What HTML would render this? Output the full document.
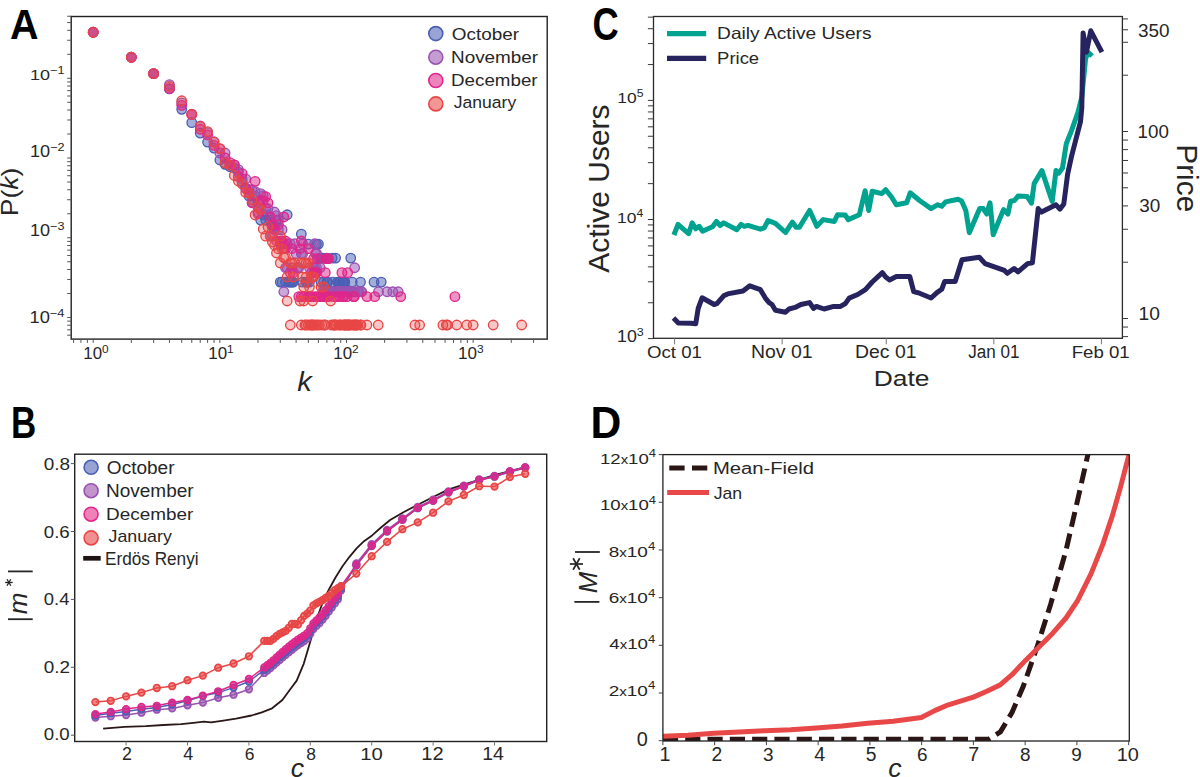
<!DOCTYPE html>
<html><head><meta charset="utf-8"><style>
html,body{margin:0;padding:0;background:#fff;width:1200px;height:777px;overflow:hidden}
svg{display:block}
text{font-family:"Liberation Sans",sans-serif}
</style></head><body>
<svg width="1200" height="777" viewBox="0 0 1200 777" fill="#262626">
<rect width="1200" height="777" fill="#fff"/>
<clipPath id="clipA"><rect x="71.2" y="16.5" width="476.00000000000006" height="322.6"/></clipPath>
<g clip-path="url(#clipA)">
<circle cx="93.2" cy="32.23" r="4.75" fill="#4a5fb5" stroke="#4a5fb5" stroke-width="1.35" fill-opacity="0.5"/>
<circle cx="131.33" cy="57.26" r="4.75" fill="#4a5fb5" stroke="#4a5fb5" stroke-width="1.35" fill-opacity="0.5"/>
<circle cx="153.63" cy="73.63" r="4.75" fill="#4a5fb5" stroke="#4a5fb5" stroke-width="1.35" fill-opacity="0.5"/>
<circle cx="169.45" cy="88.91" r="4.75" fill="#4a5fb5" stroke="#4a5fb5" stroke-width="1.35" fill-opacity="0.5"/>
<circle cx="181.72" cy="109.31" r="4.75" fill="#4a5fb5" stroke="#4a5fb5" stroke-width="1.35" fill-opacity="0.5"/>
<circle cx="191.75" cy="122.65" r="4.75" fill="#4a5fb5" stroke="#4a5fb5" stroke-width="1.35" fill-opacity="0.5"/>
<circle cx="200.23" cy="133.08" r="4.75" fill="#4a5fb5" stroke="#4a5fb5" stroke-width="1.35" fill-opacity="0.5"/>
<circle cx="207.58" cy="142.12" r="4.75" fill="#4a5fb5" stroke="#4a5fb5" stroke-width="1.35" fill-opacity="0.5"/>
<circle cx="214.05" cy="148.07" r="4.75" fill="#4a5fb5" stroke="#4a5fb5" stroke-width="1.35" fill-opacity="0.5"/>
<circle cx="219.85" cy="160.01" r="4.75" fill="#4a5fb5" stroke="#4a5fb5" stroke-width="1.35" fill-opacity="0.5"/>
<circle cx="225.09" cy="164.34" r="4.75" fill="#4a5fb5" stroke="#4a5fb5" stroke-width="1.35" fill-opacity="0.5"/>
<circle cx="229.88" cy="166.73" r="4.75" fill="#4a5fb5" stroke="#4a5fb5" stroke-width="1.35" fill-opacity="0.5"/>
<circle cx="234.28" cy="167.99" r="4.75" fill="#4a5fb5" stroke="#4a5fb5" stroke-width="1.35" fill-opacity="0.5"/>
<circle cx="238.36" cy="172.07" r="4.75" fill="#4a5fb5" stroke="#4a5fb5" stroke-width="1.35" fill-opacity="0.5"/>
<circle cx="242.15" cy="182.03" r="4.75" fill="#4a5fb5" stroke="#4a5fb5" stroke-width="1.35" fill-opacity="0.5"/>
<circle cx="245.7" cy="188.34" r="4.75" fill="#4a5fb5" stroke="#4a5fb5" stroke-width="1.35" fill-opacity="0.5"/>
<circle cx="249.04" cy="196.07" r="4.75" fill="#4a5fb5" stroke="#4a5fb5" stroke-width="1.35" fill-opacity="0.5"/>
<circle cx="252.18" cy="202.38" r="4.75" fill="#4a5fb5" stroke="#4a5fb5" stroke-width="1.35" fill-opacity="0.5"/>
<circle cx="255.15" cy="196.07" r="4.75" fill="#4a5fb5" stroke="#4a5fb5" stroke-width="1.35" fill-opacity="0.5"/>
<circle cx="257.98" cy="202.38" r="4.75" fill="#4a5fb5" stroke="#4a5fb5" stroke-width="1.35" fill-opacity="0.5"/>
<circle cx="260.66" cy="220.07" r="4.75" fill="#4a5fb5" stroke="#4a5fb5" stroke-width="1.35" fill-opacity="0.5"/>
<circle cx="263.22" cy="214.73" r="4.75" fill="#4a5fb5" stroke="#4a5fb5" stroke-width="1.35" fill-opacity="0.5"/>
<circle cx="265.66" cy="220.07" r="4.75" fill="#4a5fb5" stroke="#4a5fb5" stroke-width="1.35" fill-opacity="0.5"/>
<circle cx="268" cy="214.73" r="4.75" fill="#4a5fb5" stroke="#4a5fb5" stroke-width="1.35" fill-opacity="0.5"/>
<circle cx="270.25" cy="220.07" r="4.75" fill="#4a5fb5" stroke="#4a5fb5" stroke-width="1.35" fill-opacity="0.5"/>
<circle cx="272.41" cy="226.39" r="4.75" fill="#4a5fb5" stroke="#4a5fb5" stroke-width="1.35" fill-opacity="0.5"/>
<circle cx="274.48" cy="226.39" r="4.75" fill="#4a5fb5" stroke="#4a5fb5" stroke-width="1.35" fill-opacity="0.5"/>
<circle cx="276.48" cy="220.07" r="4.75" fill="#4a5fb5" stroke="#4a5fb5" stroke-width="1.35" fill-opacity="0.5"/>
<circle cx="278.41" cy="220.07" r="4.75" fill="#4a5fb5" stroke="#4a5fb5" stroke-width="1.35" fill-opacity="0.5"/>
<circle cx="280.28" cy="244.07" r="4.75" fill="#4a5fb5" stroke="#4a5fb5" stroke-width="1.35" fill-opacity="0.5"/>
<circle cx="280.28" cy="282.11" r="4.75" fill="#4a5fb5" stroke="#4a5fb5" stroke-width="1.35" fill-opacity="0.5"/>
<circle cx="282.08" cy="282.11" r="4.75" fill="#4a5fb5" stroke="#4a5fb5" stroke-width="1.35" fill-opacity="0.5"/>
<circle cx="285.52" cy="282.11" r="4.75" fill="#4a5fb5" stroke="#4a5fb5" stroke-width="1.35" fill-opacity="0.5"/>
<circle cx="288.76" cy="282.11" r="4.75" fill="#4a5fb5" stroke="#4a5fb5" stroke-width="1.35" fill-opacity="0.5"/>
<circle cx="290.31" cy="282.11" r="4.75" fill="#4a5fb5" stroke="#4a5fb5" stroke-width="1.35" fill-opacity="0.5"/>
<circle cx="291.81" cy="282.11" r="4.75" fill="#4a5fb5" stroke="#4a5fb5" stroke-width="1.35" fill-opacity="0.5"/>
<circle cx="293.28" cy="282.11" r="4.75" fill="#4a5fb5" stroke="#4a5fb5" stroke-width="1.35" fill-opacity="0.5"/>
<circle cx="302.58" cy="282.11" r="4.75" fill="#4a5fb5" stroke="#4a5fb5" stroke-width="1.35" fill-opacity="0.5"/>
<circle cx="306.13" cy="282.11" r="4.75" fill="#4a5fb5" stroke="#4a5fb5" stroke-width="1.35" fill-opacity="0.5"/>
<circle cx="307.26" cy="282.11" r="4.75" fill="#4a5fb5" stroke="#4a5fb5" stroke-width="1.35" fill-opacity="0.5"/>
<circle cx="309.46" cy="282.11" r="4.75" fill="#4a5fb5" stroke="#4a5fb5" stroke-width="1.35" fill-opacity="0.5"/>
<circle cx="321.09" cy="282.11" r="4.75" fill="#4a5fb5" stroke="#4a5fb5" stroke-width="1.35" fill-opacity="0.5"/>
<circle cx="323.65" cy="282.11" r="4.75" fill="#4a5fb5" stroke="#4a5fb5" stroke-width="1.35" fill-opacity="0.5"/>
<circle cx="326.88" cy="282.11" r="4.75" fill="#4a5fb5" stroke="#4a5fb5" stroke-width="1.35" fill-opacity="0.5"/>
<circle cx="327.66" cy="282.11" r="4.75" fill="#4a5fb5" stroke="#4a5fb5" stroke-width="1.35" fill-opacity="0.5"/>
<circle cx="332.83" cy="282.11" r="4.75" fill="#4a5fb5" stroke="#4a5fb5" stroke-width="1.35" fill-opacity="0.5"/>
<circle cx="337.56" cy="282.11" r="4.75" fill="#4a5fb5" stroke="#4a5fb5" stroke-width="1.35" fill-opacity="0.5"/>
<circle cx="338.84" cy="282.11" r="4.75" fill="#4a5fb5" stroke="#4a5fb5" stroke-width="1.35" fill-opacity="0.5"/>
<circle cx="340.09" cy="282.11" r="4.75" fill="#4a5fb5" stroke="#4a5fb5" stroke-width="1.35" fill-opacity="0.5"/>
<circle cx="342.51" cy="282.11" r="4.75" fill="#4a5fb5" stroke="#4a5fb5" stroke-width="1.35" fill-opacity="0.5"/>
<circle cx="343.1" cy="282.11" r="4.75" fill="#4a5fb5" stroke="#4a5fb5" stroke-width="1.35" fill-opacity="0.5"/>
<circle cx="344.25" cy="282.11" r="4.75" fill="#4a5fb5" stroke="#4a5fb5" stroke-width="1.35" fill-opacity="0.5"/>
<circle cx="344.82" cy="282.11" r="4.75" fill="#4a5fb5" stroke="#4a5fb5" stroke-width="1.35" fill-opacity="0.5"/>
<circle cx="319.31" cy="258.11" r="4.75" fill="#4a5fb5" stroke="#4a5fb5" stroke-width="1.35" fill-opacity="0.5"/>
<circle cx="321.09" cy="258.11" r="4.75" fill="#4a5fb5" stroke="#4a5fb5" stroke-width="1.35" fill-opacity="0.5"/>
<circle cx="321.95" cy="258.11" r="4.75" fill="#4a5fb5" stroke="#4a5fb5" stroke-width="1.35" fill-opacity="0.5"/>
<circle cx="322.81" cy="258.11" r="4.75" fill="#4a5fb5" stroke="#4a5fb5" stroke-width="1.35" fill-opacity="0.5"/>
<circle cx="326.88" cy="258.11" r="4.75" fill="#4a5fb5" stroke="#4a5fb5" stroke-width="1.35" fill-opacity="0.5"/>
<circle cx="332.12" cy="258.11" r="4.75" fill="#4a5fb5" stroke="#4a5fb5" stroke-width="1.35" fill-opacity="0.5"/>
<circle cx="335.58" cy="258.11" r="4.75" fill="#4a5fb5" stroke="#4a5fb5" stroke-width="1.35" fill-opacity="0.5"/>
<circle cx="308.37" cy="244.07" r="4.75" fill="#4a5fb5" stroke="#4a5fb5" stroke-width="1.35" fill-opacity="0.5"/>
<circle cx="316.54" cy="244.07" r="4.75" fill="#4a5fb5" stroke="#4a5fb5" stroke-width="1.35" fill-opacity="0.5"/>
<circle cx="318.4" cy="244.07" r="4.75" fill="#4a5fb5" stroke="#4a5fb5" stroke-width="1.35" fill-opacity="0.5"/>
<circle cx="352.24" cy="282.11" r="4.75" fill="#4a5fb5" stroke="#4a5fb5" stroke-width="1.35" fill-opacity="0.5"/>
<circle cx="360.51" cy="282.11" r="4.75" fill="#4a5fb5" stroke="#4a5fb5" stroke-width="1.35" fill-opacity="0.5"/>
<circle cx="374.04" cy="282.11" r="4.75" fill="#4a5fb5" stroke="#4a5fb5" stroke-width="1.35" fill-opacity="0.5"/>
<circle cx="381.22" cy="282.11" r="4.75" fill="#4a5fb5" stroke="#4a5fb5" stroke-width="1.35" fill-opacity="0.5"/>
<circle cx="350.73" cy="258.11" r="4.75" fill="#4a5fb5" stroke="#4a5fb5" stroke-width="1.35" fill-opacity="0.5"/>
<circle cx="287.16" cy="214.73" r="4.75" fill="#4a5fb5" stroke="#4a5fb5" stroke-width="1.35" fill-opacity="0.5"/>
<circle cx="301.34" cy="234.11" r="4.75" fill="#4a5fb5" stroke="#4a5fb5" stroke-width="1.35" fill-opacity="0.5"/>
<circle cx="93.2" cy="32.23" r="4.75" fill="#9a52b2" stroke="#9a52b2" stroke-width="1.35" fill-opacity="0.5"/>
<circle cx="131.33" cy="57.26" r="4.75" fill="#9a52b2" stroke="#9a52b2" stroke-width="1.35" fill-opacity="0.5"/>
<circle cx="153.63" cy="73.64" r="4.75" fill="#9a52b2" stroke="#9a52b2" stroke-width="1.35" fill-opacity="0.5"/>
<circle cx="169.45" cy="84.55" r="4.75" fill="#9a52b2" stroke="#9a52b2" stroke-width="1.35" fill-opacity="0.5"/>
<circle cx="181.72" cy="102.85" r="4.75" fill="#9a52b2" stroke="#9a52b2" stroke-width="1.35" fill-opacity="0.5"/>
<circle cx="191.75" cy="114.33" r="4.75" fill="#9a52b2" stroke="#9a52b2" stroke-width="1.35" fill-opacity="0.5"/>
<circle cx="200.23" cy="125.98" r="4.75" fill="#9a52b2" stroke="#9a52b2" stroke-width="1.35" fill-opacity="0.5"/>
<circle cx="207.58" cy="132.64" r="4.75" fill="#9a52b2" stroke="#9a52b2" stroke-width="1.35" fill-opacity="0.5"/>
<circle cx="214.05" cy="141.79" r="4.75" fill="#9a52b2" stroke="#9a52b2" stroke-width="1.35" fill-opacity="0.5"/>
<circle cx="219.85" cy="152.99" r="4.75" fill="#9a52b2" stroke="#9a52b2" stroke-width="1.35" fill-opacity="0.5"/>
<circle cx="225.09" cy="152.99" r="4.75" fill="#9a52b2" stroke="#9a52b2" stroke-width="1.35" fill-opacity="0.5"/>
<circle cx="229.88" cy="164.89" r="4.75" fill="#9a52b2" stroke="#9a52b2" stroke-width="1.35" fill-opacity="0.5"/>
<circle cx="234.28" cy="164.89" r="4.75" fill="#9a52b2" stroke="#9a52b2" stroke-width="1.35" fill-opacity="0.5"/>
<circle cx="238.36" cy="169.64" r="4.75" fill="#9a52b2" stroke="#9a52b2" stroke-width="1.35" fill-opacity="0.5"/>
<circle cx="242.15" cy="178.93" r="4.75" fill="#9a52b2" stroke="#9a52b2" stroke-width="1.35" fill-opacity="0.5"/>
<circle cx="245.7" cy="178.93" r="4.75" fill="#9a52b2" stroke="#9a52b2" stroke-width="1.35" fill-opacity="0.5"/>
<circle cx="249.04" cy="189.79" r="4.75" fill="#9a52b2" stroke="#9a52b2" stroke-width="1.35" fill-opacity="0.5"/>
<circle cx="252.18" cy="189.79" r="4.75" fill="#9a52b2" stroke="#9a52b2" stroke-width="1.35" fill-opacity="0.5"/>
<circle cx="255.15" cy="191.67" r="4.75" fill="#9a52b2" stroke="#9a52b2" stroke-width="1.35" fill-opacity="0.5"/>
<circle cx="257.98" cy="212.02" r="4.75" fill="#9a52b2" stroke="#9a52b2" stroke-width="1.35" fill-opacity="0.5"/>
<circle cx="260.66" cy="193.65" r="4.75" fill="#9a52b2" stroke="#9a52b2" stroke-width="1.35" fill-opacity="0.5"/>
<circle cx="263.22" cy="195.74" r="4.75" fill="#9a52b2" stroke="#9a52b2" stroke-width="1.35" fill-opacity="0.5"/>
<circle cx="265.66" cy="208.72" r="4.75" fill="#9a52b2" stroke="#9a52b2" stroke-width="1.35" fill-opacity="0.5"/>
<circle cx="268" cy="208.72" r="4.75" fill="#9a52b2" stroke="#9a52b2" stroke-width="1.35" fill-opacity="0.5"/>
<circle cx="270.25" cy="236.02" r="4.75" fill="#9a52b2" stroke="#9a52b2" stroke-width="1.35" fill-opacity="0.5"/>
<circle cx="272.41" cy="236.02" r="4.75" fill="#9a52b2" stroke="#9a52b2" stroke-width="1.35" fill-opacity="0.5"/>
<circle cx="274.48" cy="212.02" r="4.75" fill="#9a52b2" stroke="#9a52b2" stroke-width="1.35" fill-opacity="0.5"/>
<circle cx="276.48" cy="215.67" r="4.75" fill="#9a52b2" stroke="#9a52b2" stroke-width="1.35" fill-opacity="0.5"/>
<circle cx="278.41" cy="229.71" r="4.75" fill="#9a52b2" stroke="#9a52b2" stroke-width="1.35" fill-opacity="0.5"/>
<circle cx="280.28" cy="243.75" r="4.75" fill="#9a52b2" stroke="#9a52b2" stroke-width="1.35" fill-opacity="0.5"/>
<circle cx="282.08" cy="229.71" r="4.75" fill="#9a52b2" stroke="#9a52b2" stroke-width="1.35" fill-opacity="0.5"/>
<circle cx="322.81" cy="291.75" r="4.75" fill="#9a52b2" stroke="#9a52b2" stroke-width="1.35" fill-opacity="0.5"/>
<circle cx="324.47" cy="291.75" r="4.75" fill="#9a52b2" stroke="#9a52b2" stroke-width="1.35" fill-opacity="0.5"/>
<circle cx="325.29" cy="291.75" r="4.75" fill="#9a52b2" stroke="#9a52b2" stroke-width="1.35" fill-opacity="0.5"/>
<circle cx="326.88" cy="291.75" r="4.75" fill="#9a52b2" stroke="#9a52b2" stroke-width="1.35" fill-opacity="0.5"/>
<circle cx="327.66" cy="291.75" r="4.75" fill="#9a52b2" stroke="#9a52b2" stroke-width="1.35" fill-opacity="0.5"/>
<circle cx="329.94" cy="291.75" r="4.75" fill="#9a52b2" stroke="#9a52b2" stroke-width="1.35" fill-opacity="0.5"/>
<circle cx="330.68" cy="291.75" r="4.75" fill="#9a52b2" stroke="#9a52b2" stroke-width="1.35" fill-opacity="0.5"/>
<circle cx="332.12" cy="291.75" r="4.75" fill="#9a52b2" stroke="#9a52b2" stroke-width="1.35" fill-opacity="0.5"/>
<circle cx="336.25" cy="291.75" r="4.75" fill="#9a52b2" stroke="#9a52b2" stroke-width="1.35" fill-opacity="0.5"/>
<circle cx="336.91" cy="291.75" r="4.75" fill="#9a52b2" stroke="#9a52b2" stroke-width="1.35" fill-opacity="0.5"/>
<circle cx="338.2" cy="291.75" r="4.75" fill="#9a52b2" stroke="#9a52b2" stroke-width="1.35" fill-opacity="0.5"/>
<circle cx="339.47" cy="291.75" r="4.75" fill="#9a52b2" stroke="#9a52b2" stroke-width="1.35" fill-opacity="0.5"/>
<circle cx="340.09" cy="291.75" r="4.75" fill="#9a52b2" stroke="#9a52b2" stroke-width="1.35" fill-opacity="0.5"/>
<circle cx="340.7" cy="291.75" r="4.75" fill="#9a52b2" stroke="#9a52b2" stroke-width="1.35" fill-opacity="0.5"/>
<circle cx="343.1" cy="291.75" r="4.75" fill="#9a52b2" stroke="#9a52b2" stroke-width="1.35" fill-opacity="0.5"/>
<circle cx="344.25" cy="291.75" r="4.75" fill="#9a52b2" stroke="#9a52b2" stroke-width="1.35" fill-opacity="0.5"/>
<circle cx="346.5" cy="291.75" r="4.75" fill="#9a52b2" stroke="#9a52b2" stroke-width="1.35" fill-opacity="0.5"/>
<circle cx="347.59" cy="291.75" r="4.75" fill="#9a52b2" stroke="#9a52b2" stroke-width="1.35" fill-opacity="0.5"/>
<circle cx="348.66" cy="291.75" r="4.75" fill="#9a52b2" stroke="#9a52b2" stroke-width="1.35" fill-opacity="0.5"/>
<circle cx="349.18" cy="291.75" r="4.75" fill="#9a52b2" stroke="#9a52b2" stroke-width="1.35" fill-opacity="0.5"/>
<circle cx="351.74" cy="291.75" r="4.75" fill="#9a52b2" stroke="#9a52b2" stroke-width="1.35" fill-opacity="0.5"/>
<circle cx="352.73" cy="291.75" r="4.75" fill="#9a52b2" stroke="#9a52b2" stroke-width="1.35" fill-opacity="0.5"/>
<circle cx="354.66" cy="291.75" r="4.75" fill="#9a52b2" stroke="#9a52b2" stroke-width="1.35" fill-opacity="0.5"/>
<circle cx="357.44" cy="291.75" r="4.75" fill="#9a52b2" stroke="#9a52b2" stroke-width="1.35" fill-opacity="0.5"/>
<circle cx="358.77" cy="291.75" r="4.75" fill="#9a52b2" stroke="#9a52b2" stroke-width="1.35" fill-opacity="0.5"/>
<circle cx="360.93" cy="291.75" r="4.75" fill="#9a52b2" stroke="#9a52b2" stroke-width="1.35" fill-opacity="0.5"/>
<circle cx="361.77" cy="291.75" r="4.75" fill="#9a52b2" stroke="#9a52b2" stroke-width="1.35" fill-opacity="0.5"/>
<circle cx="287.16" cy="267.75" r="4.75" fill="#9a52b2" stroke="#9a52b2" stroke-width="1.35" fill-opacity="0.5"/>
<circle cx="291.81" cy="267.75" r="4.75" fill="#9a52b2" stroke="#9a52b2" stroke-width="1.35" fill-opacity="0.5"/>
<circle cx="297.46" cy="267.75" r="4.75" fill="#9a52b2" stroke="#9a52b2" stroke-width="1.35" fill-opacity="0.5"/>
<circle cx="298.78" cy="267.75" r="4.75" fill="#9a52b2" stroke="#9a52b2" stroke-width="1.35" fill-opacity="0.5"/>
<circle cx="309.46" cy="267.75" r="4.75" fill="#9a52b2" stroke="#9a52b2" stroke-width="1.35" fill-opacity="0.5"/>
<circle cx="313.62" cy="267.75" r="4.75" fill="#9a52b2" stroke="#9a52b2" stroke-width="1.35" fill-opacity="0.5"/>
<circle cx="314.61" cy="267.75" r="4.75" fill="#9a52b2" stroke="#9a52b2" stroke-width="1.35" fill-opacity="0.5"/>
<circle cx="320.21" cy="267.75" r="4.75" fill="#9a52b2" stroke="#9a52b2" stroke-width="1.35" fill-opacity="0.5"/>
<circle cx="296.1" cy="253.71" r="4.75" fill="#9a52b2" stroke="#9a52b2" stroke-width="1.35" fill-opacity="0.5"/>
<circle cx="301.34" cy="253.71" r="4.75" fill="#9a52b2" stroke="#9a52b2" stroke-width="1.35" fill-opacity="0.5"/>
<circle cx="302.58" cy="253.71" r="4.75" fill="#9a52b2" stroke="#9a52b2" stroke-width="1.35" fill-opacity="0.5"/>
<circle cx="315.58" cy="253.71" r="4.75" fill="#9a52b2" stroke="#9a52b2" stroke-width="1.35" fill-opacity="0.5"/>
<circle cx="316.54" cy="253.71" r="4.75" fill="#9a52b2" stroke="#9a52b2" stroke-width="1.35" fill-opacity="0.5"/>
<circle cx="282.08" cy="243.75" r="4.75" fill="#9a52b2" stroke="#9a52b2" stroke-width="1.35" fill-opacity="0.5"/>
<circle cx="283.83" cy="243.75" r="4.75" fill="#9a52b2" stroke="#9a52b2" stroke-width="1.35" fill-opacity="0.5"/>
<circle cx="287.16" cy="243.75" r="4.75" fill="#9a52b2" stroke="#9a52b2" stroke-width="1.35" fill-opacity="0.5"/>
<circle cx="290.31" cy="243.75" r="4.75" fill="#9a52b2" stroke="#9a52b2" stroke-width="1.35" fill-opacity="0.5"/>
<circle cx="294.71" cy="243.75" r="4.75" fill="#9a52b2" stroke="#9a52b2" stroke-width="1.35" fill-opacity="0.5"/>
<circle cx="302.58" cy="243.75" r="4.75" fill="#9a52b2" stroke="#9a52b2" stroke-width="1.35" fill-opacity="0.5"/>
<circle cx="283.83" cy="291.75" r="4.75" fill="#9a52b2" stroke="#9a52b2" stroke-width="1.35" fill-opacity="0.5"/>
<circle cx="378.52" cy="291.75" r="4.75" fill="#9a52b2" stroke="#9a52b2" stroke-width="1.35" fill-opacity="0.5"/>
<circle cx="387.05" cy="291.75" r="4.75" fill="#9a52b2" stroke="#9a52b2" stroke-width="1.35" fill-opacity="0.5"/>
<circle cx="392.79" cy="291.75" r="4.75" fill="#9a52b2" stroke="#9a52b2" stroke-width="1.35" fill-opacity="0.5"/>
<circle cx="398.2" cy="291.75" r="4.75" fill="#9a52b2" stroke="#9a52b2" stroke-width="1.35" fill-opacity="0.5"/>
<circle cx="285.52" cy="267.75" r="4.75" fill="#9a52b2" stroke="#9a52b2" stroke-width="1.35" fill-opacity="0.5"/>
<circle cx="316.54" cy="267.75" r="4.75" fill="#9a52b2" stroke="#9a52b2" stroke-width="1.35" fill-opacity="0.5"/>
<circle cx="354.66" cy="267.75" r="4.75" fill="#9a52b2" stroke="#9a52b2" stroke-width="1.35" fill-opacity="0.5"/>
<circle cx="314.61" cy="243.75" r="4.75" fill="#9a52b2" stroke="#9a52b2" stroke-width="1.35" fill-opacity="0.5"/>
<circle cx="93.2" cy="32.21" r="4.75" fill="#e0268a" stroke="#e0268a" stroke-width="1.35" fill-opacity="0.5"/>
<circle cx="131.33" cy="57.26" r="4.75" fill="#e0268a" stroke="#e0268a" stroke-width="1.35" fill-opacity="0.5"/>
<circle cx="153.63" cy="73.61" r="4.75" fill="#e0268a" stroke="#e0268a" stroke-width="1.35" fill-opacity="0.5"/>
<circle cx="169.45" cy="88.63" r="4.75" fill="#e0268a" stroke="#e0268a" stroke-width="1.35" fill-opacity="0.5"/>
<circle cx="181.72" cy="105.37" r="4.75" fill="#e0268a" stroke="#e0268a" stroke-width="1.35" fill-opacity="0.5"/>
<circle cx="191.75" cy="114.47" r="4.75" fill="#e0268a" stroke="#e0268a" stroke-width="1.35" fill-opacity="0.5"/>
<circle cx="200.23" cy="129.23" r="4.75" fill="#e0268a" stroke="#e0268a" stroke-width="1.35" fill-opacity="0.5"/>
<circle cx="207.58" cy="134.89" r="4.75" fill="#e0268a" stroke="#e0268a" stroke-width="1.35" fill-opacity="0.5"/>
<circle cx="214.05" cy="145.4" r="4.75" fill="#e0268a" stroke="#e0268a" stroke-width="1.35" fill-opacity="0.5"/>
<circle cx="219.85" cy="148.61" r="4.75" fill="#e0268a" stroke="#e0268a" stroke-width="1.35" fill-opacity="0.5"/>
<circle cx="225.09" cy="157.94" r="4.75" fill="#e0268a" stroke="#e0268a" stroke-width="1.35" fill-opacity="0.5"/>
<circle cx="229.88" cy="162.65" r="4.75" fill="#e0268a" stroke="#e0268a" stroke-width="1.35" fill-opacity="0.5"/>
<circle cx="234.28" cy="164.88" r="4.75" fill="#e0268a" stroke="#e0268a" stroke-width="1.35" fill-opacity="0.5"/>
<circle cx="238.36" cy="176.69" r="4.75" fill="#e0268a" stroke="#e0268a" stroke-width="1.35" fill-opacity="0.5"/>
<circle cx="242.15" cy="173.59" r="4.75" fill="#e0268a" stroke="#e0268a" stroke-width="1.35" fill-opacity="0.5"/>
<circle cx="245.7" cy="188.12" r="4.75" fill="#e0268a" stroke="#e0268a" stroke-width="1.35" fill-opacity="0.5"/>
<circle cx="249.04" cy="192.96" r="4.75" fill="#e0268a" stroke="#e0268a" stroke-width="1.35" fill-opacity="0.5"/>
<circle cx="252.18" cy="202.92" r="4.75" fill="#e0268a" stroke="#e0268a" stroke-width="1.35" fill-opacity="0.5"/>
<circle cx="255.15" cy="181.31" r="4.75" fill="#e0268a" stroke="#e0268a" stroke-width="1.35" fill-opacity="0.5"/>
<circle cx="257.98" cy="213.66" r="4.75" fill="#e0268a" stroke="#e0268a" stroke-width="1.35" fill-opacity="0.5"/>
<circle cx="260.66" cy="200.69" r="4.75" fill="#e0268a" stroke="#e0268a" stroke-width="1.35" fill-opacity="0.5"/>
<circle cx="263.22" cy="200.69" r="4.75" fill="#e0268a" stroke="#e0268a" stroke-width="1.35" fill-opacity="0.5"/>
<circle cx="265.66" cy="196.61" r="4.75" fill="#e0268a" stroke="#e0268a" stroke-width="1.35" fill-opacity="0.5"/>
<circle cx="268" cy="202.92" r="4.75" fill="#e0268a" stroke="#e0268a" stroke-width="1.35" fill-opacity="0.5"/>
<circle cx="270.25" cy="216.96" r="4.75" fill="#e0268a" stroke="#e0268a" stroke-width="1.35" fill-opacity="0.5"/>
<circle cx="272.41" cy="224.69" r="4.75" fill="#e0268a" stroke="#e0268a" stroke-width="1.35" fill-opacity="0.5"/>
<circle cx="274.48" cy="229.31" r="4.75" fill="#e0268a" stroke="#e0268a" stroke-width="1.35" fill-opacity="0.5"/>
<circle cx="276.48" cy="240.97" r="4.75" fill="#e0268a" stroke="#e0268a" stroke-width="1.35" fill-opacity="0.5"/>
<circle cx="278.41" cy="224.69" r="4.75" fill="#e0268a" stroke="#e0268a" stroke-width="1.35" fill-opacity="0.5"/>
<circle cx="280.28" cy="240.97" r="4.75" fill="#e0268a" stroke="#e0268a" stroke-width="1.35" fill-opacity="0.5"/>
<circle cx="282.08" cy="240.97" r="4.75" fill="#e0268a" stroke="#e0268a" stroke-width="1.35" fill-opacity="0.5"/>
<circle cx="283.83" cy="216.96" r="4.75" fill="#e0268a" stroke="#e0268a" stroke-width="1.35" fill-opacity="0.5"/>
<circle cx="298.78" cy="296.69" r="4.75" fill="#e0268a" stroke="#e0268a" stroke-width="1.35" fill-opacity="0.5"/>
<circle cx="301.34" cy="296.69" r="4.75" fill="#e0268a" stroke="#e0268a" stroke-width="1.35" fill-opacity="0.5"/>
<circle cx="303.79" cy="296.69" r="4.75" fill="#e0268a" stroke="#e0268a" stroke-width="1.35" fill-opacity="0.5"/>
<circle cx="308.37" cy="296.69" r="4.75" fill="#e0268a" stroke="#e0268a" stroke-width="1.35" fill-opacity="0.5"/>
<circle cx="309.46" cy="296.69" r="4.75" fill="#e0268a" stroke="#e0268a" stroke-width="1.35" fill-opacity="0.5"/>
<circle cx="310.53" cy="296.69" r="4.75" fill="#e0268a" stroke="#e0268a" stroke-width="1.35" fill-opacity="0.5"/>
<circle cx="312.61" cy="296.69" r="4.75" fill="#e0268a" stroke="#e0268a" stroke-width="1.35" fill-opacity="0.5"/>
<circle cx="315.58" cy="296.69" r="4.75" fill="#e0268a" stroke="#e0268a" stroke-width="1.35" fill-opacity="0.5"/>
<circle cx="318.4" cy="296.69" r="4.75" fill="#e0268a" stroke="#e0268a" stroke-width="1.35" fill-opacity="0.5"/>
<circle cx="320.21" cy="296.69" r="4.75" fill="#e0268a" stroke="#e0268a" stroke-width="1.35" fill-opacity="0.5"/>
<circle cx="322.81" cy="296.69" r="4.75" fill="#e0268a" stroke="#e0268a" stroke-width="1.35" fill-opacity="0.5"/>
<circle cx="324.47" cy="296.69" r="4.75" fill="#e0268a" stroke="#e0268a" stroke-width="1.35" fill-opacity="0.5"/>
<circle cx="326.88" cy="296.69" r="4.75" fill="#e0268a" stroke="#e0268a" stroke-width="1.35" fill-opacity="0.5"/>
<circle cx="328.43" cy="296.69" r="4.75" fill="#e0268a" stroke="#e0268a" stroke-width="1.35" fill-opacity="0.5"/>
<circle cx="333.53" cy="296.69" r="4.75" fill="#e0268a" stroke="#e0268a" stroke-width="1.35" fill-opacity="0.5"/>
<circle cx="336.91" cy="296.69" r="4.75" fill="#e0268a" stroke="#e0268a" stroke-width="1.35" fill-opacity="0.5"/>
<circle cx="339.47" cy="296.69" r="4.75" fill="#e0268a" stroke="#e0268a" stroke-width="1.35" fill-opacity="0.5"/>
<circle cx="343.1" cy="296.69" r="4.75" fill="#e0268a" stroke="#e0268a" stroke-width="1.35" fill-opacity="0.5"/>
<circle cx="343.68" cy="296.69" r="4.75" fill="#e0268a" stroke="#e0268a" stroke-width="1.35" fill-opacity="0.5"/>
<circle cx="347.05" cy="296.69" r="4.75" fill="#e0268a" stroke="#e0268a" stroke-width="1.35" fill-opacity="0.5"/>
<circle cx="353.71" cy="296.69" r="4.75" fill="#e0268a" stroke="#e0268a" stroke-width="1.35" fill-opacity="0.5"/>
<circle cx="354.19" cy="296.69" r="4.75" fill="#e0268a" stroke="#e0268a" stroke-width="1.35" fill-opacity="0.5"/>
<circle cx="290.31" cy="272.69" r="4.75" fill="#e0268a" stroke="#e0268a" stroke-width="1.35" fill-opacity="0.5"/>
<circle cx="293.28" cy="272.69" r="4.75" fill="#e0268a" stroke="#e0268a" stroke-width="1.35" fill-opacity="0.5"/>
<circle cx="311.58" cy="272.69" r="4.75" fill="#e0268a" stroke="#e0268a" stroke-width="1.35" fill-opacity="0.5"/>
<circle cx="314.61" cy="272.69" r="4.75" fill="#e0268a" stroke="#e0268a" stroke-width="1.35" fill-opacity="0.5"/>
<circle cx="315.58" cy="272.69" r="4.75" fill="#e0268a" stroke="#e0268a" stroke-width="1.35" fill-opacity="0.5"/>
<circle cx="316.54" cy="272.69" r="4.75" fill="#e0268a" stroke="#e0268a" stroke-width="1.35" fill-opacity="0.5"/>
<circle cx="313.62" cy="258.65" r="4.75" fill="#e0268a" stroke="#e0268a" stroke-width="1.35" fill-opacity="0.5"/>
<circle cx="317.48" cy="258.65" r="4.75" fill="#e0268a" stroke="#e0268a" stroke-width="1.35" fill-opacity="0.5"/>
<circle cx="326.09" cy="258.65" r="4.75" fill="#e0268a" stroke="#e0268a" stroke-width="1.35" fill-opacity="0.5"/>
<circle cx="326.88" cy="258.65" r="4.75" fill="#e0268a" stroke="#e0268a" stroke-width="1.35" fill-opacity="0.5"/>
<circle cx="327.66" cy="258.65" r="4.75" fill="#e0268a" stroke="#e0268a" stroke-width="1.35" fill-opacity="0.5"/>
<circle cx="328.43" cy="258.65" r="4.75" fill="#e0268a" stroke="#e0268a" stroke-width="1.35" fill-opacity="0.5"/>
<circle cx="283.83" cy="248.69" r="4.75" fill="#e0268a" stroke="#e0268a" stroke-width="1.35" fill-opacity="0.5"/>
<circle cx="285.52" cy="248.69" r="4.75" fill="#e0268a" stroke="#e0268a" stroke-width="1.35" fill-opacity="0.5"/>
<circle cx="291.81" cy="248.69" r="4.75" fill="#e0268a" stroke="#e0268a" stroke-width="1.35" fill-opacity="0.5"/>
<circle cx="300.08" cy="248.69" r="4.75" fill="#e0268a" stroke="#e0268a" stroke-width="1.35" fill-opacity="0.5"/>
<circle cx="308.37" cy="248.69" r="4.75" fill="#e0268a" stroke="#e0268a" stroke-width="1.35" fill-opacity="0.5"/>
<circle cx="285.52" cy="240.97" r="4.75" fill="#e0268a" stroke="#e0268a" stroke-width="1.35" fill-opacity="0.5"/>
<circle cx="301.34" cy="240.97" r="4.75" fill="#e0268a" stroke="#e0268a" stroke-width="1.35" fill-opacity="0.5"/>
<circle cx="366.94" cy="296.69" r="4.75" fill="#e0268a" stroke="#e0268a" stroke-width="1.35" fill-opacity="0.5"/>
<circle cx="374.71" cy="296.69" r="4.75" fill="#e0268a" stroke="#e0268a" stroke-width="1.35" fill-opacity="0.5"/>
<circle cx="400.72" cy="296.69" r="4.75" fill="#e0268a" stroke="#e0268a" stroke-width="1.35" fill-opacity="0.5"/>
<circle cx="454.93" cy="296.69" r="4.75" fill="#e0268a" stroke="#e0268a" stroke-width="1.35" fill-opacity="0.5"/>
<circle cx="325.29" cy="272.69" r="4.75" fill="#e0268a" stroke="#e0268a" stroke-width="1.35" fill-opacity="0.5"/>
<circle cx="341.91" cy="272.69" r="4.75" fill="#e0268a" stroke="#e0268a" stroke-width="1.35" fill-opacity="0.5"/>
<circle cx="347.59" cy="272.69" r="4.75" fill="#e0268a" stroke="#e0268a" stroke-width="1.35" fill-opacity="0.5"/>
<circle cx="93.2" cy="32.22" r="4.75" fill="#e84646" stroke="#e84646" stroke-width="1.35" fill-opacity="0.3"/>
<circle cx="131.33" cy="57.25" r="4.75" fill="#e84646" stroke="#e84646" stroke-width="1.35" fill-opacity="0.3"/>
<circle cx="153.63" cy="73.61" r="4.75" fill="#e84646" stroke="#e84646" stroke-width="1.35" fill-opacity="0.3"/>
<circle cx="169.45" cy="86.5" r="4.75" fill="#e84646" stroke="#e84646" stroke-width="1.35" fill-opacity="0.3"/>
<circle cx="181.72" cy="100.77" r="4.75" fill="#e84646" stroke="#e84646" stroke-width="1.35" fill-opacity="0.3"/>
<circle cx="191.75" cy="114.23" r="4.75" fill="#e84646" stroke="#e84646" stroke-width="1.35" fill-opacity="0.3"/>
<circle cx="200.23" cy="126.47" r="4.75" fill="#e84646" stroke="#e84646" stroke-width="1.35" fill-opacity="0.3"/>
<circle cx="207.58" cy="131.66" r="4.75" fill="#e84646" stroke="#e84646" stroke-width="1.35" fill-opacity="0.3"/>
<circle cx="214.05" cy="142.06" r="4.75" fill="#e84646" stroke="#e84646" stroke-width="1.35" fill-opacity="0.3"/>
<circle cx="219.85" cy="148.83" r="4.75" fill="#e84646" stroke="#e84646" stroke-width="1.35" fill-opacity="0.3"/>
<circle cx="225.09" cy="162.87" r="4.75" fill="#e84646" stroke="#e84646" stroke-width="1.35" fill-opacity="0.3"/>
<circle cx="229.88" cy="165.19" r="4.75" fill="#e84646" stroke="#e84646" stroke-width="1.35" fill-opacity="0.3"/>
<circle cx="234.28" cy="175.5" r="4.75" fill="#e84646" stroke="#e84646" stroke-width="1.35" fill-opacity="0.3"/>
<circle cx="238.36" cy="180.99" r="4.75" fill="#e84646" stroke="#e84646" stroke-width="1.35" fill-opacity="0.3"/>
<circle cx="242.15" cy="183.8" r="4.75" fill="#e84646" stroke="#e84646" stroke-width="1.35" fill-opacity="0.3"/>
<circle cx="245.7" cy="192.42" r="4.75" fill="#e84646" stroke="#e84646" stroke-width="1.35" fill-opacity="0.3"/>
<circle cx="249.04" cy="193.18" r="4.75" fill="#e84646" stroke="#e84646" stroke-width="1.35" fill-opacity="0.3"/>
<circle cx="252.18" cy="199.96" r="4.75" fill="#e84646" stroke="#e84646" stroke-width="1.35" fill-opacity="0.3"/>
<circle cx="255.15" cy="214.95" r="4.75" fill="#e84646" stroke="#e84646" stroke-width="1.35" fill-opacity="0.3"/>
<circle cx="257.98" cy="207.22" r="4.75" fill="#e84646" stroke="#e84646" stroke-width="1.35" fill-opacity="0.3"/>
<circle cx="260.66" cy="209.61" r="4.75" fill="#e84646" stroke="#e84646" stroke-width="1.35" fill-opacity="0.3"/>
<circle cx="263.22" cy="228.99" r="4.75" fill="#e84646" stroke="#e84646" stroke-width="1.35" fill-opacity="0.3"/>
<circle cx="265.66" cy="236.18" r="4.75" fill="#e84646" stroke="#e84646" stroke-width="1.35" fill-opacity="0.3"/>
<circle cx="268" cy="226.89" r="4.75" fill="#e84646" stroke="#e84646" stroke-width="1.35" fill-opacity="0.3"/>
<circle cx="270.25" cy="236.18" r="4.75" fill="#e84646" stroke="#e84646" stroke-width="1.35" fill-opacity="0.3"/>
<circle cx="272.41" cy="241.96" r="4.75" fill="#e84646" stroke="#e84646" stroke-width="1.35" fill-opacity="0.3"/>
<circle cx="274.48" cy="245.26" r="4.75" fill="#e84646" stroke="#e84646" stroke-width="1.35" fill-opacity="0.3"/>
<circle cx="276.48" cy="252.99" r="4.75" fill="#e84646" stroke="#e84646" stroke-width="1.35" fill-opacity="0.3"/>
<circle cx="278.41" cy="248.91" r="4.75" fill="#e84646" stroke="#e84646" stroke-width="1.35" fill-opacity="0.3"/>
<circle cx="280.28" cy="236.18" r="4.75" fill="#e84646" stroke="#e84646" stroke-width="1.35" fill-opacity="0.3"/>
<circle cx="282.08" cy="248.91" r="4.75" fill="#e84646" stroke="#e84646" stroke-width="1.35" fill-opacity="0.3"/>
<circle cx="283.83" cy="257.61" r="4.75" fill="#e84646" stroke="#e84646" stroke-width="1.35" fill-opacity="0.3"/>
<circle cx="285.52" cy="257.61" r="4.75" fill="#e84646" stroke="#e84646" stroke-width="1.35" fill-opacity="0.3"/>
<circle cx="290.31" cy="324.99" r="4.75" fill="#e84646" stroke="#e84646" stroke-width="1.35" fill-opacity="0.3"/>
<circle cx="301.34" cy="324.99" r="4.75" fill="#e84646" stroke="#e84646" stroke-width="1.35" fill-opacity="0.3"/>
<circle cx="304.97" cy="324.99" r="4.75" fill="#e84646" stroke="#e84646" stroke-width="1.35" fill-opacity="0.3"/>
<circle cx="306.13" cy="324.99" r="4.75" fill="#e84646" stroke="#e84646" stroke-width="1.35" fill-opacity="0.3"/>
<circle cx="308.37" cy="324.99" r="4.75" fill="#e84646" stroke="#e84646" stroke-width="1.35" fill-opacity="0.3"/>
<circle cx="310.53" cy="324.99" r="4.75" fill="#e84646" stroke="#e84646" stroke-width="1.35" fill-opacity="0.3"/>
<circle cx="311.58" cy="324.99" r="4.75" fill="#e84646" stroke="#e84646" stroke-width="1.35" fill-opacity="0.3"/>
<circle cx="312.61" cy="324.99" r="4.75" fill="#e84646" stroke="#e84646" stroke-width="1.35" fill-opacity="0.3"/>
<circle cx="313.62" cy="324.99" r="4.75" fill="#e84646" stroke="#e84646" stroke-width="1.35" fill-opacity="0.3"/>
<circle cx="315.58" cy="324.99" r="4.75" fill="#e84646" stroke="#e84646" stroke-width="1.35" fill-opacity="0.3"/>
<circle cx="317.48" cy="324.99" r="4.75" fill="#e84646" stroke="#e84646" stroke-width="1.35" fill-opacity="0.3"/>
<circle cx="319.31" cy="324.99" r="4.75" fill="#e84646" stroke="#e84646" stroke-width="1.35" fill-opacity="0.3"/>
<circle cx="321.95" cy="324.99" r="4.75" fill="#e84646" stroke="#e84646" stroke-width="1.35" fill-opacity="0.3"/>
<circle cx="324.47" cy="324.99" r="4.75" fill="#e84646" stroke="#e84646" stroke-width="1.35" fill-opacity="0.3"/>
<circle cx="325.29" cy="324.99" r="4.75" fill="#e84646" stroke="#e84646" stroke-width="1.35" fill-opacity="0.3"/>
<circle cx="331.41" cy="324.99" r="4.75" fill="#e84646" stroke="#e84646" stroke-width="1.35" fill-opacity="0.3"/>
<circle cx="333.53" cy="324.99" r="4.75" fill="#e84646" stroke="#e84646" stroke-width="1.35" fill-opacity="0.3"/>
<circle cx="334.23" cy="324.99" r="4.75" fill="#e84646" stroke="#e84646" stroke-width="1.35" fill-opacity="0.3"/>
<circle cx="334.91" cy="324.99" r="4.75" fill="#e84646" stroke="#e84646" stroke-width="1.35" fill-opacity="0.3"/>
<circle cx="336.25" cy="324.99" r="4.75" fill="#e84646" stroke="#e84646" stroke-width="1.35" fill-opacity="0.3"/>
<circle cx="338.84" cy="324.99" r="4.75" fill="#e84646" stroke="#e84646" stroke-width="1.35" fill-opacity="0.3"/>
<circle cx="340.09" cy="324.99" r="4.75" fill="#e84646" stroke="#e84646" stroke-width="1.35" fill-opacity="0.3"/>
<circle cx="341.31" cy="324.99" r="4.75" fill="#e84646" stroke="#e84646" stroke-width="1.35" fill-opacity="0.3"/>
<circle cx="343.68" cy="324.99" r="4.75" fill="#e84646" stroke="#e84646" stroke-width="1.35" fill-opacity="0.3"/>
<circle cx="344.25" cy="324.99" r="4.75" fill="#e84646" stroke="#e84646" stroke-width="1.35" fill-opacity="0.3"/>
<circle cx="345.39" cy="324.99" r="4.75" fill="#e84646" stroke="#e84646" stroke-width="1.35" fill-opacity="0.3"/>
<circle cx="345.95" cy="324.99" r="4.75" fill="#e84646" stroke="#e84646" stroke-width="1.35" fill-opacity="0.3"/>
<circle cx="346.5" cy="324.99" r="4.75" fill="#e84646" stroke="#e84646" stroke-width="1.35" fill-opacity="0.3"/>
<circle cx="348.13" cy="324.99" r="4.75" fill="#e84646" stroke="#e84646" stroke-width="1.35" fill-opacity="0.3"/>
<circle cx="348.66" cy="324.99" r="4.75" fill="#e84646" stroke="#e84646" stroke-width="1.35" fill-opacity="0.3"/>
<circle cx="349.18" cy="324.99" r="4.75" fill="#e84646" stroke="#e84646" stroke-width="1.35" fill-opacity="0.3"/>
<circle cx="350.22" cy="324.99" r="4.75" fill="#e84646" stroke="#e84646" stroke-width="1.35" fill-opacity="0.3"/>
<circle cx="352.24" cy="324.99" r="4.75" fill="#e84646" stroke="#e84646" stroke-width="1.35" fill-opacity="0.3"/>
<circle cx="353.71" cy="324.99" r="4.75" fill="#e84646" stroke="#e84646" stroke-width="1.35" fill-opacity="0.3"/>
<circle cx="354.66" cy="324.99" r="4.75" fill="#e84646" stroke="#e84646" stroke-width="1.35" fill-opacity="0.3"/>
<circle cx="356.07" cy="324.99" r="4.75" fill="#e84646" stroke="#e84646" stroke-width="1.35" fill-opacity="0.3"/>
<circle cx="356.53" cy="324.99" r="4.75" fill="#e84646" stroke="#e84646" stroke-width="1.35" fill-opacity="0.3"/>
<circle cx="357.44" cy="324.99" r="4.75" fill="#e84646" stroke="#e84646" stroke-width="1.35" fill-opacity="0.3"/>
<circle cx="360.51" cy="324.99" r="4.75" fill="#e84646" stroke="#e84646" stroke-width="1.35" fill-opacity="0.3"/>
<circle cx="360.93" cy="324.99" r="4.75" fill="#e84646" stroke="#e84646" stroke-width="1.35" fill-opacity="0.3"/>
<circle cx="287.16" cy="300.99" r="4.75" fill="#e84646" stroke="#e84646" stroke-width="1.35" fill-opacity="0.3"/>
<circle cx="300.08" cy="300.99" r="4.75" fill="#e84646" stroke="#e84646" stroke-width="1.35" fill-opacity="0.3"/>
<circle cx="303.79" cy="300.99" r="4.75" fill="#e84646" stroke="#e84646" stroke-width="1.35" fill-opacity="0.3"/>
<circle cx="303.79" cy="286.95" r="4.75" fill="#e84646" stroke="#e84646" stroke-width="1.35" fill-opacity="0.3"/>
<circle cx="309.46" cy="286.95" r="4.75" fill="#e84646" stroke="#e84646" stroke-width="1.35" fill-opacity="0.3"/>
<circle cx="321.09" cy="286.95" r="4.75" fill="#e84646" stroke="#e84646" stroke-width="1.35" fill-opacity="0.3"/>
<circle cx="323.65" cy="286.95" r="4.75" fill="#e84646" stroke="#e84646" stroke-width="1.35" fill-opacity="0.3"/>
<circle cx="287.16" cy="276.99" r="4.75" fill="#e84646" stroke="#e84646" stroke-width="1.35" fill-opacity="0.3"/>
<circle cx="293.28" cy="276.99" r="4.75" fill="#e84646" stroke="#e84646" stroke-width="1.35" fill-opacity="0.3"/>
<circle cx="302.58" cy="276.99" r="4.75" fill="#e84646" stroke="#e84646" stroke-width="1.35" fill-opacity="0.3"/>
<circle cx="306.13" cy="276.99" r="4.75" fill="#e84646" stroke="#e84646" stroke-width="1.35" fill-opacity="0.3"/>
<circle cx="311.58" cy="276.99" r="4.75" fill="#e84646" stroke="#e84646" stroke-width="1.35" fill-opacity="0.3"/>
<circle cx="312.61" cy="276.99" r="4.75" fill="#e84646" stroke="#e84646" stroke-width="1.35" fill-opacity="0.3"/>
<circle cx="313.62" cy="276.99" r="4.75" fill="#e84646" stroke="#e84646" stroke-width="1.35" fill-opacity="0.3"/>
<circle cx="280.28" cy="262.95" r="4.75" fill="#e84646" stroke="#e84646" stroke-width="1.35" fill-opacity="0.3"/>
<circle cx="290.31" cy="262.95" r="4.75" fill="#e84646" stroke="#e84646" stroke-width="1.35" fill-opacity="0.3"/>
<circle cx="291.81" cy="262.95" r="4.75" fill="#e84646" stroke="#e84646" stroke-width="1.35" fill-opacity="0.3"/>
<circle cx="294.71" cy="262.95" r="4.75" fill="#e84646" stroke="#e84646" stroke-width="1.35" fill-opacity="0.3"/>
<circle cx="301.34" cy="262.95" r="4.75" fill="#e84646" stroke="#e84646" stroke-width="1.35" fill-opacity="0.3"/>
<circle cx="303.79" cy="262.95" r="4.75" fill="#e84646" stroke="#e84646" stroke-width="1.35" fill-opacity="0.3"/>
<circle cx="306.13" cy="262.95" r="4.75" fill="#e84646" stroke="#e84646" stroke-width="1.35" fill-opacity="0.3"/>
<circle cx="308.37" cy="262.95" r="4.75" fill="#e84646" stroke="#e84646" stroke-width="1.35" fill-opacity="0.3"/>
<circle cx="366.94" cy="324.99" r="4.75" fill="#e84646" stroke="#e84646" stroke-width="1.35" fill-opacity="0.3"/>
<circle cx="378.22" cy="324.99" r="4.75" fill="#e84646" stroke="#e84646" stroke-width="1.35" fill-opacity="0.3"/>
<circle cx="414.93" cy="324.99" r="4.75" fill="#e84646" stroke="#e84646" stroke-width="1.35" fill-opacity="0.3"/>
<circle cx="419.64" cy="324.99" r="4.75" fill="#e84646" stroke="#e84646" stroke-width="1.35" fill-opacity="0.3"/>
<circle cx="442.9" cy="324.99" r="4.75" fill="#e84646" stroke="#e84646" stroke-width="1.35" fill-opacity="0.3"/>
<circle cx="446.32" cy="324.99" r="4.75" fill="#e84646" stroke="#e84646" stroke-width="1.35" fill-opacity="0.3"/>
<circle cx="447.56" cy="324.99" r="4.75" fill="#e84646" stroke="#e84646" stroke-width="1.35" fill-opacity="0.3"/>
<circle cx="456.74" cy="324.99" r="4.75" fill="#e84646" stroke="#e84646" stroke-width="1.35" fill-opacity="0.3"/>
<circle cx="466.74" cy="324.99" r="4.75" fill="#e84646" stroke="#e84646" stroke-width="1.35" fill-opacity="0.3"/>
<circle cx="473.15" cy="324.99" r="4.75" fill="#e84646" stroke="#e84646" stroke-width="1.35" fill-opacity="0.3"/>
<circle cx="493.21" cy="324.99" r="4.75" fill="#e84646" stroke="#e84646" stroke-width="1.35" fill-opacity="0.3"/>
<circle cx="521.71" cy="324.99" r="4.75" fill="#e84646" stroke="#e84646" stroke-width="1.35" fill-opacity="0.3"/>
<circle cx="312.61" cy="300.99" r="4.75" fill="#e84646" stroke="#e84646" stroke-width="1.35" fill-opacity="0.3"/>
<circle cx="330.68" cy="300.99" r="4.75" fill="#e84646" stroke="#e84646" stroke-width="1.35" fill-opacity="0.3"/>
</g>
<rect x="71.2" y="16.5" width="476" height="322.6" fill="none" stroke="#222" stroke-width="1.4"/>
<line x1="67.2" y1="335.18" x2="71.2" y2="335.18" stroke="#555" stroke-width="1"/>
<line x1="67.2" y1="329.84" x2="71.2" y2="329.84" stroke="#555" stroke-width="1"/>
<line x1="67.2" y1="325.22" x2="71.2" y2="325.22" stroke="#555" stroke-width="1"/>
<line x1="67.2" y1="321.14" x2="71.2" y2="321.14" stroke="#555" stroke-width="1"/>
<line x1="67.2" y1="317.49" x2="71.2" y2="317.49" stroke="#555" stroke-width="1"/>
<line x1="67.2" y1="293.49" x2="71.2" y2="293.49" stroke="#555" stroke-width="1"/>
<line x1="67.2" y1="279.45" x2="71.2" y2="279.45" stroke="#555" stroke-width="1"/>
<line x1="67.2" y1="269.49" x2="71.2" y2="269.49" stroke="#555" stroke-width="1"/>
<line x1="67.2" y1="261.76" x2="71.2" y2="261.76" stroke="#555" stroke-width="1"/>
<line x1="67.2" y1="255.45" x2="71.2" y2="255.45" stroke="#555" stroke-width="1"/>
<line x1="67.2" y1="250.11" x2="71.2" y2="250.11" stroke="#555" stroke-width="1"/>
<line x1="67.2" y1="245.49" x2="71.2" y2="245.49" stroke="#555" stroke-width="1"/>
<line x1="67.2" y1="241.41" x2="71.2" y2="241.41" stroke="#555" stroke-width="1"/>
<line x1="67.2" y1="237.76" x2="71.2" y2="237.76" stroke="#555" stroke-width="1"/>
<line x1="67.2" y1="213.76" x2="71.2" y2="213.76" stroke="#555" stroke-width="1"/>
<line x1="67.2" y1="199.72" x2="71.2" y2="199.72" stroke="#555" stroke-width="1"/>
<line x1="67.2" y1="189.76" x2="71.2" y2="189.76" stroke="#555" stroke-width="1"/>
<line x1="67.2" y1="182.03" x2="71.2" y2="182.03" stroke="#555" stroke-width="1"/>
<line x1="67.2" y1="175.72" x2="71.2" y2="175.72" stroke="#555" stroke-width="1"/>
<line x1="67.2" y1="170.38" x2="71.2" y2="170.38" stroke="#555" stroke-width="1"/>
<line x1="67.2" y1="165.76" x2="71.2" y2="165.76" stroke="#555" stroke-width="1"/>
<line x1="67.2" y1="161.68" x2="71.2" y2="161.68" stroke="#555" stroke-width="1"/>
<line x1="67.2" y1="158.03" x2="71.2" y2="158.03" stroke="#555" stroke-width="1"/>
<line x1="67.2" y1="134.03" x2="71.2" y2="134.03" stroke="#555" stroke-width="1"/>
<line x1="67.2" y1="119.99" x2="71.2" y2="119.99" stroke="#555" stroke-width="1"/>
<line x1="67.2" y1="110.03" x2="71.2" y2="110.03" stroke="#555" stroke-width="1"/>
<line x1="67.2" y1="102.3" x2="71.2" y2="102.3" stroke="#555" stroke-width="1"/>
<line x1="67.2" y1="95.99" x2="71.2" y2="95.99" stroke="#555" stroke-width="1"/>
<line x1="67.2" y1="90.65" x2="71.2" y2="90.65" stroke="#555" stroke-width="1"/>
<line x1="67.2" y1="86.03" x2="71.2" y2="86.03" stroke="#555" stroke-width="1"/>
<line x1="67.2" y1="81.95" x2="71.2" y2="81.95" stroke="#555" stroke-width="1"/>
<line x1="67.2" y1="78.3" x2="71.2" y2="78.3" stroke="#555" stroke-width="1"/>
<line x1="67.2" y1="54.3" x2="71.2" y2="54.3" stroke="#555" stroke-width="1"/>
<line x1="67.2" y1="40.26" x2="71.2" y2="40.26" stroke="#555" stroke-width="1"/>
<line x1="67.2" y1="30.3" x2="71.2" y2="30.3" stroke="#555" stroke-width="1"/>
<line x1="67.2" y1="22.57" x2="71.2" y2="22.57" stroke="#555" stroke-width="1"/>
<line x1="67.2" y1="16.26" x2="71.2" y2="16.26" stroke="#555" stroke-width="1"/>
<line x1="73.58" y1="339.1" x2="73.58" y2="342.9" stroke="#555" stroke-width="1"/>
<line x1="80.93" y1="339.1" x2="80.93" y2="342.9" stroke="#555" stroke-width="1"/>
<line x1="87.4" y1="339.1" x2="87.4" y2="342.9" stroke="#555" stroke-width="1"/>
<line x1="93.2" y1="339.1" x2="93.2" y2="342.9" stroke="#555" stroke-width="1"/>
<line x1="131.33" y1="339.1" x2="131.33" y2="342.9" stroke="#555" stroke-width="1"/>
<line x1="153.63" y1="339.1" x2="153.63" y2="342.9" stroke="#555" stroke-width="1"/>
<line x1="169.45" y1="339.1" x2="169.45" y2="342.9" stroke="#555" stroke-width="1"/>
<line x1="181.72" y1="339.1" x2="181.72" y2="342.9" stroke="#555" stroke-width="1"/>
<line x1="191.75" y1="339.1" x2="191.75" y2="342.9" stroke="#555" stroke-width="1"/>
<line x1="200.23" y1="339.1" x2="200.23" y2="342.9" stroke="#555" stroke-width="1"/>
<line x1="207.58" y1="339.1" x2="207.58" y2="342.9" stroke="#555" stroke-width="1"/>
<line x1="214.05" y1="339.1" x2="214.05" y2="342.9" stroke="#555" stroke-width="1"/>
<line x1="219.85" y1="339.1" x2="219.85" y2="342.9" stroke="#555" stroke-width="1"/>
<line x1="257.98" y1="339.1" x2="257.98" y2="342.9" stroke="#555" stroke-width="1"/>
<line x1="280.28" y1="339.1" x2="280.28" y2="342.9" stroke="#555" stroke-width="1"/>
<line x1="296.1" y1="339.1" x2="296.1" y2="342.9" stroke="#555" stroke-width="1"/>
<line x1="308.37" y1="339.1" x2="308.37" y2="342.9" stroke="#555" stroke-width="1"/>
<line x1="318.4" y1="339.1" x2="318.4" y2="342.9" stroke="#555" stroke-width="1"/>
<line x1="326.88" y1="339.1" x2="326.88" y2="342.9" stroke="#555" stroke-width="1"/>
<line x1="334.23" y1="339.1" x2="334.23" y2="342.9" stroke="#555" stroke-width="1"/>
<line x1="340.7" y1="339.1" x2="340.7" y2="342.9" stroke="#555" stroke-width="1"/>
<line x1="346.5" y1="339.1" x2="346.5" y2="342.9" stroke="#555" stroke-width="1"/>
<line x1="384.63" y1="339.1" x2="384.63" y2="342.9" stroke="#555" stroke-width="1"/>
<line x1="406.93" y1="339.1" x2="406.93" y2="342.9" stroke="#555" stroke-width="1"/>
<line x1="422.75" y1="339.1" x2="422.75" y2="342.9" stroke="#555" stroke-width="1"/>
<line x1="435.02" y1="339.1" x2="435.02" y2="342.9" stroke="#555" stroke-width="1"/>
<line x1="445.05" y1="339.1" x2="445.05" y2="342.9" stroke="#555" stroke-width="1"/>
<line x1="453.53" y1="339.1" x2="453.53" y2="342.9" stroke="#555" stroke-width="1"/>
<line x1="460.88" y1="339.1" x2="460.88" y2="342.9" stroke="#555" stroke-width="1"/>
<line x1="467.35" y1="339.1" x2="467.35" y2="342.9" stroke="#555" stroke-width="1"/>
<line x1="473.15" y1="339.1" x2="473.15" y2="342.9" stroke="#555" stroke-width="1"/>
<line x1="511.28" y1="339.1" x2="511.28" y2="342.9" stroke="#555" stroke-width="1"/>
<line x1="533.58" y1="339.1" x2="533.58" y2="342.9" stroke="#555" stroke-width="1"/>
<circle cx="435.8" cy="33.6" r="7" fill="#4a5fb5" stroke="#4a5fb5" stroke-width="1.6" fill-opacity="0.57"/>
<circle cx="435.8" cy="57.2" r="7" fill="#9a52b2" stroke="#9a52b2" stroke-width="1.6" fill-opacity="0.57"/>
<circle cx="435.8" cy="80.5" r="7" fill="#e0268a" stroke="#e0268a" stroke-width="1.6" fill-opacity="0.57"/>
<circle cx="435.8" cy="103.9" r="7" fill="#e84646" stroke="#e84646" stroke-width="1.6" fill-opacity="0.57"/>
<polyline points="103.1,728.7 124.7,726.8 145.8,726.1 163.5,725 181.1,724.1 193.4,722.9 204,721.7 211.1,722.4 221.7,720.8 236,718.6 251.5,715.5 261.8,712.4 272.1,708.3 282.4,700 289.7,690 296.7,680.6 303.8,663.6 310.9,639.5 318,615.2 323.5,600.5 329.6,588.2 335.5,577.5 342.5,566.3 349.5,556.8 356.6,548.3 364,541.2 372.1,535.4 381,527.5 390.1,520 403,512.5 417.2,505 432.7,497.3 448.1,489.6 463.6,484.7 479,479.9 494.4,475.1 509.9,471.2 525.3,467.1" fill="none" stroke="#2a1818" stroke-width="1.8" stroke-linejoin="round"/>
<polyline points="95.4,717.6 110.75,716.2 126.1,715 141.45,712.7 156.8,709.7 172.15,708.4 187.5,705.3 202.85,702.6 218.2,697.8 233.55,694.7 248.9,689.3 264.25,672.96 267.32,670.5 270.39,668.05 273.46,665.39 276.53,662.67 279.6,659.98 282.67,657.35 285.74,654.71 288.81,652.2 291.88,649.75 294.95,647.3 298.02,645.04 301.09,643.05 304.16,641.05 307.23,638.57 310.3,633.79 313.37,629.01 316.44,625.91 319.51,623.02 322.58,619.58 325.65,615.76 328.72,611.66 331.79,607.46 334.86,603.43 337.93,599.23 341,590.6 356.35,563.5 371.7,544.2 387.05,529.9 402.4,518.5 417.75,506.9 433.1,499.6 448.45,491.5 463.8,485.6 479.15,479.4 494.5,476 509.85,471.2 525.2,467.2" fill="none" stroke="#9a52b2" stroke-width="1.5" stroke-linejoin="round"/>
<circle cx="95.4" cy="717.6" r="3.3" fill="#9a52b2" stroke="#9a52b2" stroke-width="1.7" fill-opacity="0.62"/>
<circle cx="110.75" cy="716.2" r="3.3" fill="#9a52b2" stroke="#9a52b2" stroke-width="1.7" fill-opacity="0.62"/>
<circle cx="126.1" cy="715" r="3.3" fill="#9a52b2" stroke="#9a52b2" stroke-width="1.7" fill-opacity="0.62"/>
<circle cx="141.45" cy="712.7" r="3.3" fill="#9a52b2" stroke="#9a52b2" stroke-width="1.7" fill-opacity="0.62"/>
<circle cx="156.8" cy="709.7" r="3.3" fill="#9a52b2" stroke="#9a52b2" stroke-width="1.7" fill-opacity="0.62"/>
<circle cx="172.15" cy="708.4" r="3.3" fill="#9a52b2" stroke="#9a52b2" stroke-width="1.7" fill-opacity="0.62"/>
<circle cx="187.5" cy="705.3" r="3.3" fill="#9a52b2" stroke="#9a52b2" stroke-width="1.7" fill-opacity="0.62"/>
<circle cx="202.85" cy="702.6" r="3.3" fill="#9a52b2" stroke="#9a52b2" stroke-width="1.7" fill-opacity="0.62"/>
<circle cx="218.2" cy="697.8" r="3.3" fill="#9a52b2" stroke="#9a52b2" stroke-width="1.7" fill-opacity="0.62"/>
<circle cx="233.55" cy="694.7" r="3.3" fill="#9a52b2" stroke="#9a52b2" stroke-width="1.7" fill-opacity="0.62"/>
<circle cx="248.9" cy="689.3" r="3.3" fill="#9a52b2" stroke="#9a52b2" stroke-width="1.7" fill-opacity="0.62"/>
<circle cx="264.25" cy="672.96" r="3.3" fill="#9a52b2" stroke="#9a52b2" stroke-width="1.7" fill-opacity="0.62"/>
<circle cx="267.32" cy="670.5" r="3.3" fill="#9a52b2" stroke="#9a52b2" stroke-width="1.7" fill-opacity="0.62"/>
<circle cx="270.39" cy="668.05" r="3.3" fill="#9a52b2" stroke="#9a52b2" stroke-width="1.7" fill-opacity="0.62"/>
<circle cx="273.46" cy="665.39" r="3.3" fill="#9a52b2" stroke="#9a52b2" stroke-width="1.7" fill-opacity="0.62"/>
<circle cx="276.53" cy="662.67" r="3.3" fill="#9a52b2" stroke="#9a52b2" stroke-width="1.7" fill-opacity="0.62"/>
<circle cx="279.6" cy="659.98" r="3.3" fill="#9a52b2" stroke="#9a52b2" stroke-width="1.7" fill-opacity="0.62"/>
<circle cx="282.67" cy="657.35" r="3.3" fill="#9a52b2" stroke="#9a52b2" stroke-width="1.7" fill-opacity="0.62"/>
<circle cx="285.74" cy="654.71" r="3.3" fill="#9a52b2" stroke="#9a52b2" stroke-width="1.7" fill-opacity="0.62"/>
<circle cx="288.81" cy="652.2" r="3.3" fill="#9a52b2" stroke="#9a52b2" stroke-width="1.7" fill-opacity="0.62"/>
<circle cx="291.88" cy="649.75" r="3.3" fill="#9a52b2" stroke="#9a52b2" stroke-width="1.7" fill-opacity="0.62"/>
<circle cx="294.95" cy="647.3" r="3.3" fill="#9a52b2" stroke="#9a52b2" stroke-width="1.7" fill-opacity="0.62"/>
<circle cx="298.02" cy="645.04" r="3.3" fill="#9a52b2" stroke="#9a52b2" stroke-width="1.7" fill-opacity="0.62"/>
<circle cx="301.09" cy="643.05" r="3.3" fill="#9a52b2" stroke="#9a52b2" stroke-width="1.7" fill-opacity="0.62"/>
<circle cx="304.16" cy="641.05" r="3.3" fill="#9a52b2" stroke="#9a52b2" stroke-width="1.7" fill-opacity="0.62"/>
<circle cx="307.23" cy="638.57" r="3.3" fill="#9a52b2" stroke="#9a52b2" stroke-width="1.7" fill-opacity="0.62"/>
<circle cx="310.3" cy="633.79" r="3.3" fill="#9a52b2" stroke="#9a52b2" stroke-width="1.7" fill-opacity="0.62"/>
<circle cx="313.37" cy="629.01" r="3.3" fill="#9a52b2" stroke="#9a52b2" stroke-width="1.7" fill-opacity="0.62"/>
<circle cx="316.44" cy="625.91" r="3.3" fill="#9a52b2" stroke="#9a52b2" stroke-width="1.7" fill-opacity="0.62"/>
<circle cx="319.51" cy="623.02" r="3.3" fill="#9a52b2" stroke="#9a52b2" stroke-width="1.7" fill-opacity="0.62"/>
<circle cx="322.58" cy="619.58" r="3.3" fill="#9a52b2" stroke="#9a52b2" stroke-width="1.7" fill-opacity="0.62"/>
<circle cx="325.65" cy="615.76" r="3.3" fill="#9a52b2" stroke="#9a52b2" stroke-width="1.7" fill-opacity="0.62"/>
<circle cx="328.72" cy="611.66" r="3.3" fill="#9a52b2" stroke="#9a52b2" stroke-width="1.7" fill-opacity="0.62"/>
<circle cx="331.79" cy="607.46" r="3.3" fill="#9a52b2" stroke="#9a52b2" stroke-width="1.7" fill-opacity="0.62"/>
<circle cx="334.86" cy="603.43" r="3.3" fill="#9a52b2" stroke="#9a52b2" stroke-width="1.7" fill-opacity="0.62"/>
<circle cx="337.93" cy="599.23" r="3.3" fill="#9a52b2" stroke="#9a52b2" stroke-width="1.7" fill-opacity="0.62"/>
<circle cx="341" cy="590.6" r="3.3" fill="#9a52b2" stroke="#9a52b2" stroke-width="1.7" fill-opacity="0.62"/>
<circle cx="356.35" cy="563.5" r="3.3" fill="#9a52b2" stroke="#9a52b2" stroke-width="1.7" fill-opacity="0.62"/>
<circle cx="371.7" cy="544.2" r="3.3" fill="#9a52b2" stroke="#9a52b2" stroke-width="1.7" fill-opacity="0.62"/>
<circle cx="387.05" cy="529.9" r="3.3" fill="#9a52b2" stroke="#9a52b2" stroke-width="1.7" fill-opacity="0.62"/>
<circle cx="402.4" cy="518.5" r="3.3" fill="#9a52b2" stroke="#9a52b2" stroke-width="1.7" fill-opacity="0.62"/>
<circle cx="417.75" cy="506.9" r="3.3" fill="#9a52b2" stroke="#9a52b2" stroke-width="1.7" fill-opacity="0.62"/>
<circle cx="433.1" cy="499.6" r="3.3" fill="#9a52b2" stroke="#9a52b2" stroke-width="1.7" fill-opacity="0.62"/>
<circle cx="448.45" cy="491.5" r="3.3" fill="#9a52b2" stroke="#9a52b2" stroke-width="1.7" fill-opacity="0.62"/>
<circle cx="463.8" cy="485.6" r="3.3" fill="#9a52b2" stroke="#9a52b2" stroke-width="1.7" fill-opacity="0.62"/>
<circle cx="479.15" cy="479.4" r="3.3" fill="#9a52b2" stroke="#9a52b2" stroke-width="1.7" fill-opacity="0.62"/>
<circle cx="494.5" cy="476" r="3.3" fill="#9a52b2" stroke="#9a52b2" stroke-width="1.7" fill-opacity="0.62"/>
<circle cx="509.85" cy="471.2" r="3.3" fill="#9a52b2" stroke="#9a52b2" stroke-width="1.7" fill-opacity="0.62"/>
<circle cx="525.2" cy="467.2" r="3.3" fill="#9a52b2" stroke="#9a52b2" stroke-width="1.7" fill-opacity="0.62"/>
<polyline points="95.4,715.5 110.75,713.2 126.1,711.4 141.45,709.3 156.8,707.4 172.15,704.4 187.5,700.8 202.85,696.1 218.2,692.6 233.55,687.6 248.9,681.5 264.25,669.96 267.32,667.59 270.39,665.22 273.46,662.59 276.53,659.87 279.6,657.15 282.67,654.44 285.74,651.74 288.81,649.2 291.88,646.75 294.95,644.3 298.02,642.04 301.09,640.05 304.16,638.05 307.23,635.57 310.3,630.79 313.37,626.01 316.44,622.91 319.51,620.02 322.58,616.58 325.65,612.76 328.72,608.66 331.79,604.46 334.86,600.43 337.93,596.27 341,588.6 356.35,565.5 371.7,546 387.05,531.5 402.4,519.9 417.75,508.2 433.1,500.9 448.45,492.5 463.8,486.6 479.15,480.2 494.5,476.7 509.85,471.9 525.2,467.9" fill="none" stroke="#4a5fb5" stroke-width="1.5" stroke-linejoin="round"/>
<circle cx="95.4" cy="715.5" r="3.3" fill="#4a5fb5" stroke="#4a5fb5" stroke-width="1.7" fill-opacity="0.62"/>
<circle cx="110.75" cy="713.2" r="3.3" fill="#4a5fb5" stroke="#4a5fb5" stroke-width="1.7" fill-opacity="0.62"/>
<circle cx="126.1" cy="711.4" r="3.3" fill="#4a5fb5" stroke="#4a5fb5" stroke-width="1.7" fill-opacity="0.62"/>
<circle cx="141.45" cy="709.3" r="3.3" fill="#4a5fb5" stroke="#4a5fb5" stroke-width="1.7" fill-opacity="0.62"/>
<circle cx="156.8" cy="707.4" r="3.3" fill="#4a5fb5" stroke="#4a5fb5" stroke-width="1.7" fill-opacity="0.62"/>
<circle cx="172.15" cy="704.4" r="3.3" fill="#4a5fb5" stroke="#4a5fb5" stroke-width="1.7" fill-opacity="0.62"/>
<circle cx="187.5" cy="700.8" r="3.3" fill="#4a5fb5" stroke="#4a5fb5" stroke-width="1.7" fill-opacity="0.62"/>
<circle cx="202.85" cy="696.1" r="3.3" fill="#4a5fb5" stroke="#4a5fb5" stroke-width="1.7" fill-opacity="0.62"/>
<circle cx="218.2" cy="692.6" r="3.3" fill="#4a5fb5" stroke="#4a5fb5" stroke-width="1.7" fill-opacity="0.62"/>
<circle cx="233.55" cy="687.6" r="3.3" fill="#4a5fb5" stroke="#4a5fb5" stroke-width="1.7" fill-opacity="0.62"/>
<circle cx="248.9" cy="681.5" r="3.3" fill="#4a5fb5" stroke="#4a5fb5" stroke-width="1.7" fill-opacity="0.62"/>
<circle cx="264.25" cy="669.96" r="3.3" fill="#4a5fb5" stroke="#4a5fb5" stroke-width="1.7" fill-opacity="0.62"/>
<circle cx="267.32" cy="667.59" r="3.3" fill="#4a5fb5" stroke="#4a5fb5" stroke-width="1.7" fill-opacity="0.62"/>
<circle cx="270.39" cy="665.22" r="3.3" fill="#4a5fb5" stroke="#4a5fb5" stroke-width="1.7" fill-opacity="0.62"/>
<circle cx="273.46" cy="662.59" r="3.3" fill="#4a5fb5" stroke="#4a5fb5" stroke-width="1.7" fill-opacity="0.62"/>
<circle cx="276.53" cy="659.87" r="3.3" fill="#4a5fb5" stroke="#4a5fb5" stroke-width="1.7" fill-opacity="0.62"/>
<circle cx="279.6" cy="657.15" r="3.3" fill="#4a5fb5" stroke="#4a5fb5" stroke-width="1.7" fill-opacity="0.62"/>
<circle cx="282.67" cy="654.44" r="3.3" fill="#4a5fb5" stroke="#4a5fb5" stroke-width="1.7" fill-opacity="0.62"/>
<circle cx="285.74" cy="651.74" r="3.3" fill="#4a5fb5" stroke="#4a5fb5" stroke-width="1.7" fill-opacity="0.62"/>
<circle cx="288.81" cy="649.2" r="3.3" fill="#4a5fb5" stroke="#4a5fb5" stroke-width="1.7" fill-opacity="0.62"/>
<circle cx="291.88" cy="646.75" r="3.3" fill="#4a5fb5" stroke="#4a5fb5" stroke-width="1.7" fill-opacity="0.62"/>
<circle cx="294.95" cy="644.3" r="3.3" fill="#4a5fb5" stroke="#4a5fb5" stroke-width="1.7" fill-opacity="0.62"/>
<circle cx="298.02" cy="642.04" r="3.3" fill="#4a5fb5" stroke="#4a5fb5" stroke-width="1.7" fill-opacity="0.62"/>
<circle cx="301.09" cy="640.05" r="3.3" fill="#4a5fb5" stroke="#4a5fb5" stroke-width="1.7" fill-opacity="0.62"/>
<circle cx="304.16" cy="638.05" r="3.3" fill="#4a5fb5" stroke="#4a5fb5" stroke-width="1.7" fill-opacity="0.62"/>
<circle cx="307.23" cy="635.57" r="3.3" fill="#4a5fb5" stroke="#4a5fb5" stroke-width="1.7" fill-opacity="0.62"/>
<circle cx="310.3" cy="630.79" r="3.3" fill="#4a5fb5" stroke="#4a5fb5" stroke-width="1.7" fill-opacity="0.62"/>
<circle cx="313.37" cy="626.01" r="3.3" fill="#4a5fb5" stroke="#4a5fb5" stroke-width="1.7" fill-opacity="0.62"/>
<circle cx="316.44" cy="622.91" r="3.3" fill="#4a5fb5" stroke="#4a5fb5" stroke-width="1.7" fill-opacity="0.62"/>
<circle cx="319.51" cy="620.02" r="3.3" fill="#4a5fb5" stroke="#4a5fb5" stroke-width="1.7" fill-opacity="0.62"/>
<circle cx="322.58" cy="616.58" r="3.3" fill="#4a5fb5" stroke="#4a5fb5" stroke-width="1.7" fill-opacity="0.62"/>
<circle cx="325.65" cy="612.76" r="3.3" fill="#4a5fb5" stroke="#4a5fb5" stroke-width="1.7" fill-opacity="0.62"/>
<circle cx="328.72" cy="608.66" r="3.3" fill="#4a5fb5" stroke="#4a5fb5" stroke-width="1.7" fill-opacity="0.62"/>
<circle cx="331.79" cy="604.46" r="3.3" fill="#4a5fb5" stroke="#4a5fb5" stroke-width="1.7" fill-opacity="0.62"/>
<circle cx="334.86" cy="600.43" r="3.3" fill="#4a5fb5" stroke="#4a5fb5" stroke-width="1.7" fill-opacity="0.62"/>
<circle cx="337.93" cy="596.27" r="3.3" fill="#4a5fb5" stroke="#4a5fb5" stroke-width="1.7" fill-opacity="0.62"/>
<circle cx="341" cy="588.6" r="3.3" fill="#4a5fb5" stroke="#4a5fb5" stroke-width="1.7" fill-opacity="0.62"/>
<circle cx="356.35" cy="565.5" r="3.3" fill="#4a5fb5" stroke="#4a5fb5" stroke-width="1.7" fill-opacity="0.62"/>
<circle cx="371.7" cy="546" r="3.3" fill="#4a5fb5" stroke="#4a5fb5" stroke-width="1.7" fill-opacity="0.62"/>
<circle cx="387.05" cy="531.5" r="3.3" fill="#4a5fb5" stroke="#4a5fb5" stroke-width="1.7" fill-opacity="0.62"/>
<circle cx="402.4" cy="519.9" r="3.3" fill="#4a5fb5" stroke="#4a5fb5" stroke-width="1.7" fill-opacity="0.62"/>
<circle cx="417.75" cy="508.2" r="3.3" fill="#4a5fb5" stroke="#4a5fb5" stroke-width="1.7" fill-opacity="0.62"/>
<circle cx="433.1" cy="500.9" r="3.3" fill="#4a5fb5" stroke="#4a5fb5" stroke-width="1.7" fill-opacity="0.62"/>
<circle cx="448.45" cy="492.5" r="3.3" fill="#4a5fb5" stroke="#4a5fb5" stroke-width="1.7" fill-opacity="0.62"/>
<circle cx="463.8" cy="486.6" r="3.3" fill="#4a5fb5" stroke="#4a5fb5" stroke-width="1.7" fill-opacity="0.62"/>
<circle cx="479.15" cy="480.2" r="3.3" fill="#4a5fb5" stroke="#4a5fb5" stroke-width="1.7" fill-opacity="0.62"/>
<circle cx="494.5" cy="476.7" r="3.3" fill="#4a5fb5" stroke="#4a5fb5" stroke-width="1.7" fill-opacity="0.62"/>
<circle cx="509.85" cy="471.9" r="3.3" fill="#4a5fb5" stroke="#4a5fb5" stroke-width="1.7" fill-opacity="0.62"/>
<circle cx="525.2" cy="467.9" r="3.3" fill="#4a5fb5" stroke="#4a5fb5" stroke-width="1.7" fill-opacity="0.62"/>
<polyline points="95.4,714.1 110.75,711.9 126.1,709.1 141.45,707 156.8,705.8 172.15,702.6 187.5,700 202.85,695.6 218.2,691.3 233.55,685 248.9,679 264.25,667.46 267.32,665.23 270.39,662.99 273.46,660.3 276.53,657.45 279.6,654.65 282.67,651.94 285.74,649.24 288.81,646.7 291.88,644.25 294.95,641.8 298.02,639.54 301.09,637.55 304.16,635.55 307.23,633.07 310.3,628.29 313.37,623.51 316.44,620.41 319.51,617.52 322.58,614.08 325.65,610.26 328.72,606.16 331.79,601.96 334.86,597.93 337.93,593.77 341,586.1 356.35,564.9 371.7,545.6 387.05,531.1 402.4,519.5 417.75,507.9 433.1,500.6 448.45,492.2 463.8,486.3 479.15,479.9 494.5,476.4 509.85,471.6 525.2,467.6" fill="none" stroke="#e0268a" stroke-width="1.5" stroke-linejoin="round"/>
<circle cx="95.4" cy="714.1" r="3.3" fill="#e0268a" stroke="#e0268a" stroke-width="1.7" fill-opacity="0.62"/>
<circle cx="110.75" cy="711.9" r="3.3" fill="#e0268a" stroke="#e0268a" stroke-width="1.7" fill-opacity="0.62"/>
<circle cx="126.1" cy="709.1" r="3.3" fill="#e0268a" stroke="#e0268a" stroke-width="1.7" fill-opacity="0.62"/>
<circle cx="141.45" cy="707" r="3.3" fill="#e0268a" stroke="#e0268a" stroke-width="1.7" fill-opacity="0.62"/>
<circle cx="156.8" cy="705.8" r="3.3" fill="#e0268a" stroke="#e0268a" stroke-width="1.7" fill-opacity="0.62"/>
<circle cx="172.15" cy="702.6" r="3.3" fill="#e0268a" stroke="#e0268a" stroke-width="1.7" fill-opacity="0.62"/>
<circle cx="187.5" cy="700" r="3.3" fill="#e0268a" stroke="#e0268a" stroke-width="1.7" fill-opacity="0.62"/>
<circle cx="202.85" cy="695.6" r="3.3" fill="#e0268a" stroke="#e0268a" stroke-width="1.7" fill-opacity="0.62"/>
<circle cx="218.2" cy="691.3" r="3.3" fill="#e0268a" stroke="#e0268a" stroke-width="1.7" fill-opacity="0.62"/>
<circle cx="233.55" cy="685" r="3.3" fill="#e0268a" stroke="#e0268a" stroke-width="1.7" fill-opacity="0.62"/>
<circle cx="248.9" cy="679" r="3.3" fill="#e0268a" stroke="#e0268a" stroke-width="1.7" fill-opacity="0.62"/>
<circle cx="264.25" cy="667.46" r="3.3" fill="#e0268a" stroke="#e0268a" stroke-width="1.7" fill-opacity="0.62"/>
<circle cx="267.32" cy="665.23" r="3.3" fill="#e0268a" stroke="#e0268a" stroke-width="1.7" fill-opacity="0.62"/>
<circle cx="270.39" cy="662.99" r="3.3" fill="#e0268a" stroke="#e0268a" stroke-width="1.7" fill-opacity="0.62"/>
<circle cx="273.46" cy="660.3" r="3.3" fill="#e0268a" stroke="#e0268a" stroke-width="1.7" fill-opacity="0.62"/>
<circle cx="276.53" cy="657.45" r="3.3" fill="#e0268a" stroke="#e0268a" stroke-width="1.7" fill-opacity="0.62"/>
<circle cx="279.6" cy="654.65" r="3.3" fill="#e0268a" stroke="#e0268a" stroke-width="1.7" fill-opacity="0.62"/>
<circle cx="282.67" cy="651.94" r="3.3" fill="#e0268a" stroke="#e0268a" stroke-width="1.7" fill-opacity="0.62"/>
<circle cx="285.74" cy="649.24" r="3.3" fill="#e0268a" stroke="#e0268a" stroke-width="1.7" fill-opacity="0.62"/>
<circle cx="288.81" cy="646.7" r="3.3" fill="#e0268a" stroke="#e0268a" stroke-width="1.7" fill-opacity="0.62"/>
<circle cx="291.88" cy="644.25" r="3.3" fill="#e0268a" stroke="#e0268a" stroke-width="1.7" fill-opacity="0.62"/>
<circle cx="294.95" cy="641.8" r="3.3" fill="#e0268a" stroke="#e0268a" stroke-width="1.7" fill-opacity="0.62"/>
<circle cx="298.02" cy="639.54" r="3.3" fill="#e0268a" stroke="#e0268a" stroke-width="1.7" fill-opacity="0.62"/>
<circle cx="301.09" cy="637.55" r="3.3" fill="#e0268a" stroke="#e0268a" stroke-width="1.7" fill-opacity="0.62"/>
<circle cx="304.16" cy="635.55" r="3.3" fill="#e0268a" stroke="#e0268a" stroke-width="1.7" fill-opacity="0.62"/>
<circle cx="307.23" cy="633.07" r="3.3" fill="#e0268a" stroke="#e0268a" stroke-width="1.7" fill-opacity="0.62"/>
<circle cx="310.3" cy="628.29" r="3.3" fill="#e0268a" stroke="#e0268a" stroke-width="1.7" fill-opacity="0.62"/>
<circle cx="313.37" cy="623.51" r="3.3" fill="#e0268a" stroke="#e0268a" stroke-width="1.7" fill-opacity="0.62"/>
<circle cx="316.44" cy="620.41" r="3.3" fill="#e0268a" stroke="#e0268a" stroke-width="1.7" fill-opacity="0.62"/>
<circle cx="319.51" cy="617.52" r="3.3" fill="#e0268a" stroke="#e0268a" stroke-width="1.7" fill-opacity="0.62"/>
<circle cx="322.58" cy="614.08" r="3.3" fill="#e0268a" stroke="#e0268a" stroke-width="1.7" fill-opacity="0.62"/>
<circle cx="325.65" cy="610.26" r="3.3" fill="#e0268a" stroke="#e0268a" stroke-width="1.7" fill-opacity="0.62"/>
<circle cx="328.72" cy="606.16" r="3.3" fill="#e0268a" stroke="#e0268a" stroke-width="1.7" fill-opacity="0.62"/>
<circle cx="331.79" cy="601.96" r="3.3" fill="#e0268a" stroke="#e0268a" stroke-width="1.7" fill-opacity="0.62"/>
<circle cx="334.86" cy="597.93" r="3.3" fill="#e0268a" stroke="#e0268a" stroke-width="1.7" fill-opacity="0.62"/>
<circle cx="337.93" cy="593.77" r="3.3" fill="#e0268a" stroke="#e0268a" stroke-width="1.7" fill-opacity="0.62"/>
<circle cx="341" cy="586.1" r="3.3" fill="#e0268a" stroke="#e0268a" stroke-width="1.7" fill-opacity="0.62"/>
<circle cx="356.35" cy="564.9" r="3.3" fill="#e0268a" stroke="#e0268a" stroke-width="1.7" fill-opacity="0.62"/>
<circle cx="371.7" cy="545.6" r="3.3" fill="#e0268a" stroke="#e0268a" stroke-width="1.7" fill-opacity="0.62"/>
<circle cx="387.05" cy="531.1" r="3.3" fill="#e0268a" stroke="#e0268a" stroke-width="1.7" fill-opacity="0.62"/>
<circle cx="402.4" cy="519.5" r="3.3" fill="#e0268a" stroke="#e0268a" stroke-width="1.7" fill-opacity="0.62"/>
<circle cx="417.75" cy="507.9" r="3.3" fill="#e0268a" stroke="#e0268a" stroke-width="1.7" fill-opacity="0.62"/>
<circle cx="433.1" cy="500.6" r="3.3" fill="#e0268a" stroke="#e0268a" stroke-width="1.7" fill-opacity="0.62"/>
<circle cx="448.45" cy="492.2" r="3.3" fill="#e0268a" stroke="#e0268a" stroke-width="1.7" fill-opacity="0.62"/>
<circle cx="463.8" cy="486.3" r="3.3" fill="#e0268a" stroke="#e0268a" stroke-width="1.7" fill-opacity="0.62"/>
<circle cx="479.15" cy="479.9" r="3.3" fill="#e0268a" stroke="#e0268a" stroke-width="1.7" fill-opacity="0.62"/>
<circle cx="494.5" cy="476.4" r="3.3" fill="#e0268a" stroke="#e0268a" stroke-width="1.7" fill-opacity="0.62"/>
<circle cx="509.85" cy="471.6" r="3.3" fill="#e0268a" stroke="#e0268a" stroke-width="1.7" fill-opacity="0.62"/>
<circle cx="525.2" cy="467.6" r="3.3" fill="#e0268a" stroke="#e0268a" stroke-width="1.7" fill-opacity="0.62"/>
<polyline points="95.4,702.1 110.75,700.8 126.1,696.4 141.45,692.6 156.8,688 172.15,686.2 187.5,680.2 202.85,675.6 218.2,667.7 233.55,663.5 248.9,656.3 264.25,640.9 267.32,640.9 270.39,640.9 273.46,638.86 276.53,636.1 279.6,633.86 282.67,632.34 285.74,630.82 288.81,627.8 291.88,623.97 294.95,623.8 298.02,624.56 301.09,620.21 304.16,615.83 307.23,613.57 310.3,610.55 313.37,605.36 316.44,603.41 319.51,601.85 322.58,600.03 325.65,598 328.72,595.98 331.79,593.11 334.86,590.04 337.93,588.19 341,586.4 356.35,573.6 371.7,556.2 387.05,541.9 402.4,529.2 417.75,522.4 433.1,512.7 448.45,501.4 463.8,495 479.15,486.2 494.5,486.6 509.85,477.1 525.2,473.8" fill="none" stroke="#e84646" stroke-width="1.5" stroke-linejoin="round"/>
<circle cx="95.4" cy="702.1" r="3.3" fill="#e84646" stroke="#e84646" stroke-width="1.7" fill-opacity="0.62"/>
<circle cx="110.75" cy="700.8" r="3.3" fill="#e84646" stroke="#e84646" stroke-width="1.7" fill-opacity="0.62"/>
<circle cx="126.1" cy="696.4" r="3.3" fill="#e84646" stroke="#e84646" stroke-width="1.7" fill-opacity="0.62"/>
<circle cx="141.45" cy="692.6" r="3.3" fill="#e84646" stroke="#e84646" stroke-width="1.7" fill-opacity="0.62"/>
<circle cx="156.8" cy="688" r="3.3" fill="#e84646" stroke="#e84646" stroke-width="1.7" fill-opacity="0.62"/>
<circle cx="172.15" cy="686.2" r="3.3" fill="#e84646" stroke="#e84646" stroke-width="1.7" fill-opacity="0.62"/>
<circle cx="187.5" cy="680.2" r="3.3" fill="#e84646" stroke="#e84646" stroke-width="1.7" fill-opacity="0.62"/>
<circle cx="202.85" cy="675.6" r="3.3" fill="#e84646" stroke="#e84646" stroke-width="1.7" fill-opacity="0.62"/>
<circle cx="218.2" cy="667.7" r="3.3" fill="#e84646" stroke="#e84646" stroke-width="1.7" fill-opacity="0.62"/>
<circle cx="233.55" cy="663.5" r="3.3" fill="#e84646" stroke="#e84646" stroke-width="1.7" fill-opacity="0.62"/>
<circle cx="248.9" cy="656.3" r="3.3" fill="#e84646" stroke="#e84646" stroke-width="1.7" fill-opacity="0.62"/>
<circle cx="264.25" cy="640.9" r="3.3" fill="#e84646" stroke="#e84646" stroke-width="1.7" fill-opacity="0.62"/>
<circle cx="267.32" cy="640.9" r="3.3" fill="#e84646" stroke="#e84646" stroke-width="1.7" fill-opacity="0.62"/>
<circle cx="270.39" cy="640.9" r="3.3" fill="#e84646" stroke="#e84646" stroke-width="1.7" fill-opacity="0.62"/>
<circle cx="273.46" cy="638.86" r="3.3" fill="#e84646" stroke="#e84646" stroke-width="1.7" fill-opacity="0.62"/>
<circle cx="276.53" cy="636.1" r="3.3" fill="#e84646" stroke="#e84646" stroke-width="1.7" fill-opacity="0.62"/>
<circle cx="279.6" cy="633.86" r="3.3" fill="#e84646" stroke="#e84646" stroke-width="1.7" fill-opacity="0.62"/>
<circle cx="282.67" cy="632.34" r="3.3" fill="#e84646" stroke="#e84646" stroke-width="1.7" fill-opacity="0.62"/>
<circle cx="285.74" cy="630.82" r="3.3" fill="#e84646" stroke="#e84646" stroke-width="1.7" fill-opacity="0.62"/>
<circle cx="288.81" cy="627.8" r="3.3" fill="#e84646" stroke="#e84646" stroke-width="1.7" fill-opacity="0.62"/>
<circle cx="291.88" cy="623.97" r="3.3" fill="#e84646" stroke="#e84646" stroke-width="1.7" fill-opacity="0.62"/>
<circle cx="294.95" cy="623.8" r="3.3" fill="#e84646" stroke="#e84646" stroke-width="1.7" fill-opacity="0.62"/>
<circle cx="298.02" cy="624.56" r="3.3" fill="#e84646" stroke="#e84646" stroke-width="1.7" fill-opacity="0.62"/>
<circle cx="301.09" cy="620.21" r="3.3" fill="#e84646" stroke="#e84646" stroke-width="1.7" fill-opacity="0.62"/>
<circle cx="304.16" cy="615.83" r="3.3" fill="#e84646" stroke="#e84646" stroke-width="1.7" fill-opacity="0.62"/>
<circle cx="307.23" cy="613.57" r="3.3" fill="#e84646" stroke="#e84646" stroke-width="1.7" fill-opacity="0.62"/>
<circle cx="310.3" cy="610.55" r="3.3" fill="#e84646" stroke="#e84646" stroke-width="1.7" fill-opacity="0.62"/>
<circle cx="313.37" cy="605.36" r="3.3" fill="#e84646" stroke="#e84646" stroke-width="1.7" fill-opacity="0.62"/>
<circle cx="316.44" cy="603.41" r="3.3" fill="#e84646" stroke="#e84646" stroke-width="1.7" fill-opacity="0.62"/>
<circle cx="319.51" cy="601.85" r="3.3" fill="#e84646" stroke="#e84646" stroke-width="1.7" fill-opacity="0.62"/>
<circle cx="322.58" cy="600.03" r="3.3" fill="#e84646" stroke="#e84646" stroke-width="1.7" fill-opacity="0.62"/>
<circle cx="325.65" cy="598" r="3.3" fill="#e84646" stroke="#e84646" stroke-width="1.7" fill-opacity="0.62"/>
<circle cx="328.72" cy="595.98" r="3.3" fill="#e84646" stroke="#e84646" stroke-width="1.7" fill-opacity="0.62"/>
<circle cx="331.79" cy="593.11" r="3.3" fill="#e84646" stroke="#e84646" stroke-width="1.7" fill-opacity="0.62"/>
<circle cx="334.86" cy="590.04" r="3.3" fill="#e84646" stroke="#e84646" stroke-width="1.7" fill-opacity="0.62"/>
<circle cx="337.93" cy="588.19" r="3.3" fill="#e84646" stroke="#e84646" stroke-width="1.7" fill-opacity="0.62"/>
<circle cx="341" cy="586.4" r="3.3" fill="#e84646" stroke="#e84646" stroke-width="1.7" fill-opacity="0.62"/>
<circle cx="356.35" cy="573.6" r="3.3" fill="#e84646" stroke="#e84646" stroke-width="1.7" fill-opacity="0.62"/>
<circle cx="371.7" cy="556.2" r="3.3" fill="#e84646" stroke="#e84646" stroke-width="1.7" fill-opacity="0.62"/>
<circle cx="387.05" cy="541.9" r="3.3" fill="#e84646" stroke="#e84646" stroke-width="1.7" fill-opacity="0.62"/>
<circle cx="402.4" cy="529.2" r="3.3" fill="#e84646" stroke="#e84646" stroke-width="1.7" fill-opacity="0.62"/>
<circle cx="417.75" cy="522.4" r="3.3" fill="#e84646" stroke="#e84646" stroke-width="1.7" fill-opacity="0.62"/>
<circle cx="433.1" cy="512.7" r="3.3" fill="#e84646" stroke="#e84646" stroke-width="1.7" fill-opacity="0.62"/>
<circle cx="448.45" cy="501.4" r="3.3" fill="#e84646" stroke="#e84646" stroke-width="1.7" fill-opacity="0.62"/>
<circle cx="463.8" cy="495" r="3.3" fill="#e84646" stroke="#e84646" stroke-width="1.7" fill-opacity="0.62"/>
<circle cx="479.15" cy="486.2" r="3.3" fill="#e84646" stroke="#e84646" stroke-width="1.7" fill-opacity="0.62"/>
<circle cx="494.5" cy="486.6" r="3.3" fill="#e84646" stroke="#e84646" stroke-width="1.7" fill-opacity="0.62"/>
<circle cx="509.85" cy="477.1" r="3.3" fill="#e84646" stroke="#e84646" stroke-width="1.7" fill-opacity="0.62"/>
<circle cx="525.2" cy="473.8" r="3.3" fill="#e84646" stroke="#e84646" stroke-width="1.7" fill-opacity="0.62"/>
<rect x="74.7" y="454.2" width="472" height="287.3" fill="none" stroke="#222" stroke-width="1.4"/>
<line x1="70.9" y1="735.2" x2="74.7" y2="735.2" stroke="#555" stroke-width="1"/>
<line x1="70.9" y1="667.3" x2="74.7" y2="667.3" stroke="#555" stroke-width="1"/>
<line x1="70.9" y1="599.4" x2="74.7" y2="599.4" stroke="#555" stroke-width="1"/>
<line x1="70.9" y1="531.5" x2="74.7" y2="531.5" stroke="#555" stroke-width="1"/>
<line x1="70.9" y1="463.6" x2="74.7" y2="463.6" stroke="#555" stroke-width="1"/>
<line x1="126.1" y1="741.5" x2="126.1" y2="745.5" stroke="#777" stroke-width="1"/>
<line x1="187.5" y1="741.5" x2="187.5" y2="745.5" stroke="#777" stroke-width="1"/>
<line x1="248.9" y1="741.5" x2="248.9" y2="745.5" stroke="#777" stroke-width="1"/>
<line x1="310.3" y1="741.5" x2="310.3" y2="745.5" stroke="#777" stroke-width="1"/>
<line x1="371.7" y1="741.5" x2="371.7" y2="745.5" stroke="#777" stroke-width="1"/>
<line x1="433.1" y1="741.5" x2="433.1" y2="745.5" stroke="#777" stroke-width="1"/>
<line x1="494.5" y1="741.5" x2="494.5" y2="745.5" stroke="#777" stroke-width="1"/>
<circle cx="91.1" cy="467.3" r="7" fill="#97a4d3" stroke="#4a5fb5" stroke-width="1.6"/>
<circle cx="91.1" cy="490.7" r="7" fill="#c394c9" stroke="#9a52b2" stroke-width="1.6"/>
<circle cx="91.1" cy="514.2" r="7" fill="#ee82b7" stroke="#e0268a" stroke-width="1.6"/>
<circle cx="91.1" cy="537.9" r="7" fill="#f09090" stroke="#e84646" stroke-width="1.6"/>
<line x1="83.2" y1="558.3" x2="100.7" y2="558.3" stroke="#1f1414" stroke-width="4.7"/>
<text x="297.5" y="776.6" font-size="26.7" text-anchor="middle" font-style="italic">c</text>
<line x1="8" y1="571.4" x2="32.7" y2="571.4" stroke="#262626" stroke-width="1.8"/>
<line x1="8" y1="619.2" x2="32.7" y2="619.2" stroke="#262626" stroke-width="1.8"/>
<text x="27.5" y="603.3" font-size="26" font-style="italic" text-anchor="middle" transform="rotate(-90 27.5 603.3)">m</text>
<line x1="5.1" y1="582.5" x2="12.7" y2="582.5" stroke="#262626" stroke-width="1.3"/>
<line x1="7" y1="579.21" x2="10.8" y2="585.79" stroke="#262626" stroke-width="1.3"/>
<line x1="10.8" y1="579.21" x2="7" y2="585.79" stroke="#262626" stroke-width="1.3"/>
<polyline points="673.9,235 678,224.4 688.6,233.7 692.2,222.9 695.7,228.8 699.2,226.3 702.5,231.2 712.5,226.7 716.4,221.5 720.2,225.4 723.7,222.9 736.8,229.8 741.1,224.4 744.4,226.3 747.8,225.4 760.4,229.2 764.2,227.9 768.1,220.5 775.4,223.4 785.5,232.5 792.4,222.1 796.1,227.3 799.4,227.3 809.6,210.5 816.8,226.3 823.1,219.6 834.3,221.5 837.6,214.7 845.3,215.1 848.2,219.6 859.3,214.8 865.1,190.8 868.7,210.5 872.2,191.2 881.9,193.6 885.7,189.7 891.5,197 896.3,204.7 906.6,202.8 910.2,192.8 919.5,200.5 931.1,208.6 937.8,204.7 941.7,206.3 945.6,201.9 958.1,199.3 961.6,200.9 965.8,210.5 969.3,232.7 979.7,208.6 983.2,208.6 986.7,214 990,202.8 993.2,234.7 1003.5,209.6 1007.9,214 1010.6,201.3 1014.5,200.5 1018,196.1 1027.2,196.6 1031.5,203.2 1034.2,183.4 1041.9,170.6 1052.2,201.5 1056,170.6 1058.6,173.2 1062.5,168 1066.3,143.6 1071.5,130.7 1077.9,112.7 1081.8,97.2 1085.6,58.6 1088.2,52.2 1092.1,56" fill="none" stroke="#00a38f" stroke-width="5" stroke-linejoin="round" stroke-linecap="butt"/>
<polyline points="673.5,318 678.3,322.9 690.9,323.2 695.7,323.8 698.2,308.4 702.1,297.8 714.1,304.5 716.9,303.6 723.7,295.8 727.6,293.9 743,291 749.8,285.8 760.4,289.7 765.2,297.8 769.1,302.6 772,304.5 775.4,310.3 785.5,312.2 789,309 795.1,307.4 800.9,304.5 809.6,302.6 813.5,308.4 816.4,306.4 824.1,309 833.7,306.4 840.5,306.4 845.3,303.6 849.2,298.1 857.7,294.5 865.4,289.7 872.2,282 882.4,272.7 885.7,277.1 889.6,280 896.3,276.6 909.8,276.6 913.7,291.6 919.5,293.2 931.1,298 936.9,292.6 941.7,289.3 944.6,281.6 955.2,281.6 962,259.8 979.3,257.3 985.1,263.6 1004.4,270.4 1007.3,273.3 1014.1,268.5 1018,271.9 1027.6,263.6 1032.4,262.7 1038.2,208.6 1041.5,212.1 1056,204.8 1059.9,209.2 1063.8,204 1067.6,174.4 1071.5,156.4 1080.5,121.7 1081.8,107.5 1083.1,32.9 1086.4,52.2 1090.8,30.8 1101.9,52.2" fill="none" stroke="#26235f" stroke-width="5" stroke-linejoin="round" stroke-linecap="butt"/>
<rect x="653.5" y="16.5" width="468.9" height="321.8" fill="none" stroke="#2a2a2a" stroke-width="1.3"/>
<line x1="647.9" y1="338.6" x2="653.5" y2="338.6" stroke="#3a3a3a" stroke-width="1"/>
<line x1="647.9" y1="302.75" x2="653.5" y2="302.75" stroke="#3a3a3a" stroke-width="1"/>
<line x1="647.9" y1="281.77" x2="653.5" y2="281.77" stroke="#3a3a3a" stroke-width="1"/>
<line x1="647.9" y1="266.89" x2="653.5" y2="266.89" stroke="#3a3a3a" stroke-width="1"/>
<line x1="647.9" y1="255.35" x2="653.5" y2="255.35" stroke="#3a3a3a" stroke-width="1"/>
<line x1="647.9" y1="245.92" x2="653.5" y2="245.92" stroke="#3a3a3a" stroke-width="1"/>
<line x1="647.9" y1="237.95" x2="653.5" y2="237.95" stroke="#3a3a3a" stroke-width="1"/>
<line x1="647.9" y1="231.04" x2="653.5" y2="231.04" stroke="#3a3a3a" stroke-width="1"/>
<line x1="647.9" y1="224.95" x2="653.5" y2="224.95" stroke="#3a3a3a" stroke-width="1"/>
<line x1="647.9" y1="219.5" x2="653.5" y2="219.5" stroke="#3a3a3a" stroke-width="1"/>
<line x1="647.9" y1="183.65" x2="653.5" y2="183.65" stroke="#3a3a3a" stroke-width="1"/>
<line x1="647.9" y1="162.67" x2="653.5" y2="162.67" stroke="#3a3a3a" stroke-width="1"/>
<line x1="647.9" y1="147.79" x2="653.5" y2="147.79" stroke="#3a3a3a" stroke-width="1"/>
<line x1="647.9" y1="136.25" x2="653.5" y2="136.25" stroke="#3a3a3a" stroke-width="1"/>
<line x1="647.9" y1="126.82" x2="653.5" y2="126.82" stroke="#3a3a3a" stroke-width="1"/>
<line x1="647.9" y1="118.85" x2="653.5" y2="118.85" stroke="#3a3a3a" stroke-width="1"/>
<line x1="647.9" y1="111.94" x2="653.5" y2="111.94" stroke="#3a3a3a" stroke-width="1"/>
<line x1="647.9" y1="105.85" x2="653.5" y2="105.85" stroke="#3a3a3a" stroke-width="1"/>
<line x1="647.9" y1="100.4" x2="653.5" y2="100.4" stroke="#3a3a3a" stroke-width="1"/>
<line x1="647.9" y1="64.55" x2="653.5" y2="64.55" stroke="#3a3a3a" stroke-width="1"/>
<line x1="647.9" y1="43.57" x2="653.5" y2="43.57" stroke="#3a3a3a" stroke-width="1"/>
<line x1="647.9" y1="28.69" x2="653.5" y2="28.69" stroke="#3a3a3a" stroke-width="1"/>
<line x1="647.9" y1="17.15" x2="653.5" y2="17.15" stroke="#3a3a3a" stroke-width="1"/>
<line x1="1122.4" y1="336.62" x2="1128" y2="336.62" stroke="#3a3a3a" stroke-width="1"/>
<line x1="1122.4" y1="327.06" x2="1128" y2="327.06" stroke="#3a3a3a" stroke-width="1"/>
<line x1="1122.4" y1="318.5" x2="1128" y2="318.5" stroke="#3a3a3a" stroke-width="1"/>
<line x1="1122.4" y1="262.21" x2="1128" y2="262.21" stroke="#3a3a3a" stroke-width="1"/>
<line x1="1122.4" y1="229.28" x2="1128" y2="229.28" stroke="#3a3a3a" stroke-width="1"/>
<line x1="1122.4" y1="205.91" x2="1128" y2="205.91" stroke="#3a3a3a" stroke-width="1"/>
<line x1="1122.4" y1="187.79" x2="1128" y2="187.79" stroke="#3a3a3a" stroke-width="1"/>
<line x1="1122.4" y1="172.99" x2="1128" y2="172.99" stroke="#3a3a3a" stroke-width="1"/>
<line x1="1122.4" y1="160.47" x2="1128" y2="160.47" stroke="#3a3a3a" stroke-width="1"/>
<line x1="1122.4" y1="149.62" x2="1128" y2="149.62" stroke="#3a3a3a" stroke-width="1"/>
<line x1="1122.4" y1="140.06" x2="1128" y2="140.06" stroke="#3a3a3a" stroke-width="1"/>
<line x1="1122.4" y1="131.5" x2="1128" y2="131.5" stroke="#3a3a3a" stroke-width="1"/>
<line x1="1122.4" y1="75.21" x2="1128" y2="75.21" stroke="#3a3a3a" stroke-width="1"/>
<line x1="1122.4" y1="42.28" x2="1128" y2="42.28" stroke="#3a3a3a" stroke-width="1"/>
<line x1="1122.4" y1="18.91" x2="1128" y2="18.91" stroke="#3a3a3a" stroke-width="1"/>
<line x1="1122.4" y1="29.76" x2="1128" y2="29.76" stroke="#3a3a3a" stroke-width="1"/>
<line x1="674.6" y1="338.3" x2="674.6" y2="344.3" stroke="#777" stroke-width="1"/>
<line x1="782.17" y1="338.3" x2="782.17" y2="344.3" stroke="#777" stroke-width="1"/>
<line x1="886.27" y1="338.3" x2="886.27" y2="344.3" stroke="#777" stroke-width="1"/>
<line x1="993.84" y1="338.3" x2="993.84" y2="344.3" stroke="#777" stroke-width="1"/>
<line x1="1101.41" y1="338.3" x2="1101.41" y2="344.3" stroke="#777" stroke-width="1"/>
<line x1="667" y1="33.6" x2="706.2" y2="33.6" stroke="#00a38f" stroke-width="5.2"/>
<line x1="667" y1="58.4" x2="706.2" y2="58.4" stroke="#26235f" stroke-width="5.2"/>
<clipPath id="clipD"><rect x="662.9" y="454.6" width="466.4" height="286.4"/></clipPath>
<g clip-path="url(#clipD)">
<polyline points="662.9,739.2 988.8,739.2 1000.4,731.9 1012,712.5 1023.6,685.5 1037.1,646.9 1050.6,604.4 1066,550.4 1077.6,500.2 1089.6,447" fill="none" stroke="#2b1515" stroke-width="5" stroke-linejoin="round" stroke-dasharray="15.2 7.1" stroke-linecap="butt"/>
<polyline points="662.9,736.3 688,735.2 713.7,733.3 739.3,732.1 765,730.7 790.7,729.8 816.3,727.9 842,726.1 867.7,723.3 893.3,721.2 921.3,717.5 934.7,710.6 948.3,704.8 973.4,697.1 986.9,691.3 1000.4,684.7 1012,674.7 1025.5,660.4 1039,646.9 1052.5,633.4 1066,618 1077.6,600.6 1091.1,573.6 1102.7,544.6 1112.4,515.6 1120.1,488.6 1129,454.6" fill="none" stroke="#e84848" stroke-width="5" stroke-linejoin="round"/>
</g>
<rect x="662.9" y="454.6" width="466.4" height="286.4" fill="none" stroke="#222" stroke-width="1.3"/>
<line x1="658.7" y1="740.7" x2="662.9" y2="740.7" stroke="#444" stroke-width="1"/>
<line x1="658.7" y1="693.02" x2="662.9" y2="693.02" stroke="#444" stroke-width="1"/>
<line x1="658.7" y1="645.34" x2="662.9" y2="645.34" stroke="#444" stroke-width="1"/>
<line x1="658.7" y1="597.66" x2="662.9" y2="597.66" stroke="#444" stroke-width="1"/>
<line x1="658.7" y1="549.98" x2="662.9" y2="549.98" stroke="#444" stroke-width="1"/>
<line x1="658.7" y1="502.3" x2="662.9" y2="502.3" stroke="#444" stroke-width="1"/>
<line x1="658.7" y1="454.62" x2="662.9" y2="454.62" stroke="#444" stroke-width="1"/>
<line x1="662.9" y1="741" x2="662.9" y2="745.2" stroke="#444" stroke-width="1"/>
<line x1="714.65" y1="741" x2="714.65" y2="745.2" stroke="#444" stroke-width="1"/>
<line x1="766.4" y1="741" x2="766.4" y2="745.2" stroke="#444" stroke-width="1"/>
<line x1="818.15" y1="741" x2="818.15" y2="745.2" stroke="#444" stroke-width="1"/>
<line x1="869.9" y1="741" x2="869.9" y2="745.2" stroke="#444" stroke-width="1"/>
<line x1="921.65" y1="741" x2="921.65" y2="745.2" stroke="#444" stroke-width="1"/>
<line x1="973.4" y1="741" x2="973.4" y2="745.2" stroke="#444" stroke-width="1"/>
<line x1="1025.15" y1="741" x2="1025.15" y2="745.2" stroke="#444" stroke-width="1"/>
<line x1="1076.9" y1="741" x2="1076.9" y2="745.2" stroke="#444" stroke-width="1"/>
<line x1="1128.65" y1="741" x2="1128.65" y2="745.2" stroke="#444" stroke-width="1"/>
<line x1="669.3" y1="467.9" x2="707.3" y2="467.9" stroke="#2b1515" stroke-width="5" stroke-dasharray="15.3 7.4"/>
<line x1="667.2" y1="492.4" x2="709" y2="492.4" stroke="#e84848" stroke-width="5"/>
<text x="895" y="776.6" font-size="26.7" text-anchor="middle" font-style="italic">c</text>
<line x1="575" y1="552" x2="599.8" y2="552" stroke="#262626" stroke-width="1.8"/>
<line x1="574.4" y1="601.9" x2="599.4" y2="601.9" stroke="#262626" stroke-width="1.8"/>
<text x="597" y="582.4" font-size="25.8" font-style="italic" text-anchor="middle" transform="rotate(-90 597 582.4)">M</text>
<line x1="569.8" y1="564" x2="583" y2="564" stroke="#262626" stroke-width="1.7"/>
<line x1="573.1" y1="558.28" x2="579.7" y2="569.72" stroke="#262626" stroke-width="1.7"/>
<line x1="579.7" y1="558.28" x2="573.1" y2="569.72" stroke="#262626" stroke-width="1.7"/>
<g transform="matrix(0.9636 0 0 1.0513 10.04 38.60)"><g transform="rotate(0)"><text font-size="41" font-weight="bold" fill="#000">A</text></g></g>
<g transform="matrix(0.8520 0 0 1.0726 11.06 438.00)"><g transform="rotate(0)"><text font-size="41" font-weight="bold" fill="#000">B</text></g></g>
<g transform="matrix(0.8860 0 0 1.1165 592.55 39.52)"><g transform="rotate(0)"><text font-size="41" font-weight="bold" fill="#000">C</text></g></g>
<g transform="matrix(1.0400 0 0 1.0726 590.54 438.00)"><g transform="rotate(0)"><text font-size="41" font-weight="bold" fill="#000">D</text></g></g>
<g transform="matrix(1.1238 0 0 1.0588 83.30 358.50)"><g transform="rotate(0)"><text font-size="15">10<tspan font-size="10.5" dy="-5.6">0</tspan></text></g></g>
<g transform="matrix(1.1277 0 0 1.0588 208.29 358.50)"><g transform="rotate(0)"><text font-size="15">10<tspan font-size="10.5" dy="-5.6">1</tspan></text></g></g>
<g transform="matrix(1.1277 0 0 1.0588 333.29 358.50)"><g transform="rotate(0)"><text font-size="15">10<tspan font-size="10.5" dy="-5.6">2</tspan></text></g></g>
<g transform="matrix(1.1373 0 0 1.0588 458.08 358.50)"><g transform="rotate(0)"><text font-size="15">10<tspan font-size="10.5" dy="-5.6">3</tspan></text></g></g>
<g transform="matrix(1.2037 0 0 1.0275 30.00 80.20)"><g transform="rotate(0)"><text font-size="15">10<tspan font-size="10.5" dy="-5.6">−1</tspan></text></g></g>
<g transform="matrix(1.2111 0 0 1.0824 29.99 156.90)"><g transform="rotate(0)"><text font-size="15">10<tspan font-size="10.5" dy="-5.6">−2</tspan></text></g></g>
<g transform="matrix(1.2037 0 0 1.0745 30.00 236.00)"><g transform="rotate(0)"><text font-size="15">10<tspan font-size="10.5" dy="-5.6">−3</tspan></text></g></g>
<g transform="matrix(1.2222 0 0 1.0588 29.47 322.50)"><g transform="rotate(0)"><text font-size="15">10<tspan font-size="10.5" dy="-5.6">−4</tspan></text></g></g>
<g transform="matrix(1.1126 0 0 0.9760 451.87 39.76)"><g transform="rotate(0)"><text font-size="17">October</text></g></g>
<g transform="matrix(1.1124 0 0 0.9440 451.03 62.76)"><g transform="rotate(0)"><text font-size="17">November</text></g></g>
<g transform="matrix(1.1046 0 0 0.9520 451.04 86.16)"><g transform="rotate(0)"><text font-size="17">December</text></g></g>
<g transform="matrix(1.0324 0 0 1.0164 453.74 108.04)"><g transform="rotate(0)"><text font-size="17">January</text></g></g>
<g transform="matrix(1.0786 0 0 1.0308 297.26 391.00)"><g transform="rotate(0)"><text font-size="27" font-style="italic">k</text></g></g>
<g transform="matrix(0.9600 0 0 1.1062 17.60 216.31)"><g transform="rotate(-90)"><text font-size="24">P(<tspan font-style="italic">k</tspan>)</text></g></g>
<g transform="matrix(1.0966 0 0 1.0167 43.78 739.95)"><g transform="rotate(0)"><text font-size="17">0.0</text></g></g>
<g transform="matrix(1.1091 0 0 1.0167 43.77 672.75)"><g transform="rotate(0)"><text font-size="17">0.2</text></g></g>
<g transform="matrix(1.0844 0 0 1.0167 43.79 604.95)"><g transform="rotate(0)"><text font-size="17">0.4</text></g></g>
<g transform="matrix(1.0966 0 0 1.0167 43.78 537.75)"><g transform="rotate(0)"><text font-size="17">0.6</text></g></g>
<g transform="matrix(1.1146 0 0 1.0083 43.76 470.35)"><g transform="rotate(0)"><text font-size="17">0.8</text></g></g>
<g transform="matrix(1.0468 0 0 1.0468 122.06 759.80)"><g transform="rotate(0)"><text font-size="17">2</text></g></g>
<g transform="matrix(1.0468 0 0 1.0468 183.33 759.80)"><g transform="rotate(0)"><text font-size="17">4</text></g></g>
<g transform="matrix(1.0250 0 0 1.0250 244.83 759.54)"><g transform="rotate(0)"><text font-size="17">6</text></g></g>
<g transform="matrix(1.0250 0 0 1.0250 306.13 759.54)"><g transform="rotate(0)"><text font-size="17">8</text></g></g>
<g transform="matrix(1.1941 0 0 1.0250 360.21 759.54)"><g transform="rotate(0)"><text font-size="17">10</text></g></g>
<g transform="matrix(1.1821 0 0 1.0468 421.32 759.80)"><g transform="rotate(0)"><text font-size="17">12</text></g></g>
<g transform="matrix(1.1478 0 0 1.0468 482.27 759.80)"><g transform="rotate(0)"><text font-size="17">14</text></g></g>
<g transform="matrix(1.1193 0 0 1.0400 106.86 473.64)"><g transform="rotate(0)"><text font-size="17">October</text></g></g>
<g transform="matrix(1.1176 0 0 1.0320 106.02 496.94)"><g transform="rotate(0)"><text font-size="17">November</text></g></g>
<g transform="matrix(1.1124 0 0 0.9920 106.03 520.35)"><g transform="rotate(0)"><text font-size="17">December</text></g></g>
<g transform="matrix(1.0473 0 0 0.9377 108.54 541.62)"><g transform="rotate(0)"><text font-size="17">January</text></g></g>
<g transform="matrix(1.0111 0 0 1.0730 104.98 565.04)"><g transform="rotate(0)"><text font-size="17">Erdös Renyi</text></g></g>
<g transform="matrix(1.1298 0 0 1.0383 647.05 358.04)"><g transform="rotate(0)"><text font-size="16.5">Oct 01</text></g></g>
<g transform="matrix(1.1781 0 0 1.0638 751.03 358.03)"><g transform="rotate(0)"><text font-size="16.5">Nov 01</text></g></g>
<g transform="matrix(1.1761 0 0 1.0638 855.03 358.23)"><g transform="rotate(0)"><text font-size="16.5">Dec 01</text></g></g>
<g transform="matrix(1.0361 0 0 1.0638 968.24 358.23)"><g transform="rotate(0)"><text font-size="16.5">Jan 01</text></g></g>
<g transform="matrix(1.1299 0 0 1.0204 1071.69 358.24)"><g transform="rotate(0)"><text font-size="16.5">Feb 01</text></g></g>
<g transform="matrix(1.2000 0 0 1.0426 873.70 386.44)"><g transform="rotate(0)"><text font-size="22">Date</text></g></g>
<g transform="matrix(1.1855 0 0 1.0415 617.02 342.00)"><g transform="rotate(0)"><text font-size="15">10<tspan font-size="10.5" dy="-6">3</tspan></text></g></g>
<g transform="matrix(1.1619 0 0 1.0340 617.05 222.70)"><g transform="rotate(0)"><text font-size="15">10<tspan font-size="10.5" dy="-6">4</tspan></text></g></g>
<g transform="matrix(1.1639 0 0 1.0189 617.30 102.90)"><g transform="rotate(0)"><text font-size="15">10<tspan font-size="10.5" dy="-6">5</tspan></text></g></g>
<g transform="matrix(1.1467 0 0 1.0851 1138.04 37.23)"><g transform="rotate(0)"><text font-size="16.5">350</text></g></g>
<g transform="matrix(1.1359 0 0 1.0851 1137.58 138.23)"><g transform="rotate(0)"><text font-size="16.5">100</text></g></g>
<g transform="matrix(1.1471 0 0 1.0638 1139.14 211.73)"><g transform="rotate(0)"><text font-size="16.5">30</text></g></g>
<g transform="matrix(1.1667 0 0 1.0851 1138.54 320.48)"><g transform="rotate(0)"><text font-size="16.5">10</text></g></g>
<g transform="matrix(0.9909 0 0 1.0009 608.95 272.80)"><g transform="rotate(-90)"><text font-size="30">Active Users</text></g></g>
<g transform="matrix(0.9773 0 0 0.9969 1176.84 144.21)"><g transform="rotate(90)"><text font-size="30">Price</text></g></g>
<g transform="matrix(1.1626 0 0 0.9613 717.05 39.34)"><g transform="rotate(0)"><text font-size="16.5">Daily Active Users</text></g></g>
<g transform="matrix(1.1183 0 0 0.9469 717.10 63.96)"><g transform="rotate(0)"><text font-size="16.5">Price</text></g></g>
<g transform="matrix(1.2671 0 0 0.9964 608.65 695.70)"><g transform="rotate(0)"><text font-size="15">2<tspan font-size="12">x</tspan>10<tspan font-size="10.5" dy="-6.5">4</tspan></text></g></g>
<g transform="matrix(1.2497 0 0 0.9964 609.29 649.34)"><g transform="rotate(0)"><text font-size="15">4<tspan font-size="12">x</tspan>10<tspan font-size="10.5" dy="-6.5">4</tspan></text></g></g>
<g transform="matrix(1.2671 0 0 0.9964 608.65 602.98)"><g transform="rotate(0)"><text font-size="15">6<tspan font-size="12">x</tspan>10<tspan font-size="10.5" dy="-6.5">4</tspan></text></g></g>
<g transform="matrix(1.2671 0 0 0.9964 608.65 556.62)"><g transform="rotate(0)"><text font-size="15">8<tspan font-size="12">x</tspan>10<tspan font-size="10.5" dy="-6.5">4</tspan></text></g></g>
<g transform="matrix(1.2411 0 0 0.9964 599.95 510.26)"><g transform="rotate(0)"><text font-size="15">10<tspan font-size="12">x</tspan>10<tspan font-size="10.5" dy="-6.5">4</tspan></text></g></g>
<g transform="matrix(1.2411 0 0 0.9964 599.95 463.90)"><g transform="rotate(0)"><text font-size="15">12<tspan font-size="12">x</tspan>10<tspan font-size="10.5" dy="-6.5">4</tspan></text></g></g>
<g transform="matrix(1.1059 0 0 1.0824 636.67 746.13)"><g transform="rotate(0)"><text font-size="18">0</text></g></g>
<g transform="matrix(1.0939 0 0 1.0939 659.56 761.30)"><g transform="rotate(0)"><text font-size="18">1</text></g></g>
<g transform="matrix(1.0720 0 0 1.0720 711.47 761.30)"><g transform="rotate(0)"><text font-size="18">2</text></g></g>
<g transform="matrix(1.0510 0 0 1.0510 762.97 761.04)"><g transform="rotate(0)"><text font-size="18">3</text></g></g>
<g transform="matrix(1.0939 0 0 1.0939 814.14 761.30)"><g transform="rotate(0)"><text font-size="18">4</text></g></g>
<g transform="matrix(1.0720 0 0 1.0720 865.64 761.03)"><g transform="rotate(0)"><text font-size="18">5</text></g></g>
<g transform="matrix(1.0510 0 0 1.0510 917.00 761.04)"><g transform="rotate(0)"><text font-size="18">6</text></g></g>
<g transform="matrix(1.0939 0 0 1.0939 968.31 761.30)"><g transform="rotate(0)"><text font-size="18">7</text></g></g>
<g transform="matrix(1.0510 0 0 1.0510 1019.92 761.04)"><g transform="rotate(0)"><text font-size="18">8</text></g></g>
<g transform="matrix(1.0510 0 0 1.0510 1071.31 761.04)"><g transform="rotate(0)"><text font-size="18">9</text></g></g>
<g transform="matrix(1.1042 0 0 1.0510 1116.64 761.04)"><g transform="rotate(0)"><text font-size="18">10</text></g></g>
<g transform="matrix(1.2643 0 0 1.0809 712.92 473.93)"><g transform="rotate(0)"><text font-size="16">Mean-Field</text></g></g>
<g transform="matrix(1.1020 0 0 1.0844 713.72 498.93)"><g transform="rotate(0)"><text font-size="16">Jan</text></g></g>
</svg></body></html>
